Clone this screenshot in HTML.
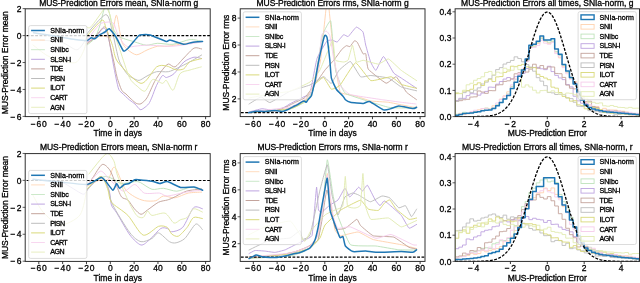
<!DOCTYPE html><html><head><meta charset="utf-8"><style>html,body{margin:0;padding:0;background:#fff;overflow:hidden}svg{display:block}text{font-family:"Liberation Sans",sans-serif}svg{will-change:transform}</style></head><body><svg width="640" height="283" viewBox="0 0 640 283" font-family="Liberation Sans, sans-serif">
<rect width="640" height="283" fill="#fff"/>
<defs>
<clipPath id="c00"><rect x="25.2" y="8.8" width="185" height="107.8"/></clipPath>
<clipPath id="c10"><rect x="240.2" y="8.8" width="184.8" height="107.8"/></clipPath>
<clipPath id="c20"><rect x="455.1" y="8.8" width="184.4" height="107.8"/></clipPath>
<clipPath id="c01"><rect x="25.2" y="153.6" width="185" height="107.8"/></clipPath>
<clipPath id="c11"><rect x="240.2" y="153.6" width="184.8" height="107.8"/></clipPath>
<clipPath id="c21"><rect x="455.1" y="153.6" width="184.4" height="107.8"/></clipPath>
</defs>
<g clip-path="url(#c00)">
<path d="M40 40C42.93 40.32 57.09 41.09 62 42.4C66.91 43.71 73.69 50.09 76.8 49.8C79.91 49.51 83.94 42.31 85.3 40.2C86.66 38.09 86.77 34.83 87 34" fill="none" stroke="#b8b8b8" stroke-width="0.95" stroke-linejoin="round" stroke-linecap="round"/>
<path d="M33 45C34.89 46.41 43.6 53.6 47.2 55.6C50.8 57.6 56.19 59.08 60 60C63.81 60.92 72.6 63.83 75.8 62.5C79 61.17 82.51 53.53 84 50C85.49 46.47 86.6 37.87 87 36" fill="none" stroke="#d8dc90" stroke-width="0.95" stroke-linejoin="round" stroke-linecap="round"/>
<path d="M87 43C88.73 42.07 97.2 36.8 100 36C102.8 35.2 106.4 37 108 37C109.6 37 110.89 38.91 112 36C113.11 33.09 115.23 15.6 116.3 15.2C117.37 14.8 119.19 29.25 120 33C120.81 36.75 121.33 41.03 122.4 43.3C123.47 45.57 126.09 48.47 128 50C129.91 51.53 134.17 54.8 136.7 54.8C139.23 54.8 144.2 51.15 147 50C149.8 48.85 154.99 46.71 157.7 46.2C160.41 45.69 163.49 46.59 167.3 46.2C171.11 45.81 181.73 43.94 186.3 43.3C190.87 42.66 199.56 41.65 201.6 41.4" fill="none" stroke="#ffd3b0" stroke-width="0.95" stroke-linejoin="round" stroke-linecap="round"/>
<path d="M87 45C88.07 44.07 93.27 40.67 95 38C96.73 35.33 98.73 29 100 25C101.27 21 103.43 10.27 104.5 8C105.57 5.73 106.87 5.33 108 8C109.13 10.67 111.67 24.27 113 28C114.33 31.73 116.61 34.6 118 36C119.39 37.4 121.13 37.7 123.4 38.5C125.67 39.3 131.95 41.11 135 42C138.05 42.89 143.27 45.03 146.3 45.2C149.33 45.37 154.14 43.42 157.7 43.3C161.26 43.18 168.67 44.81 173 44.3C177.33 43.79 186.39 39.89 190.2 39.5C194.01 39.11 200.08 41.15 201.6 41.4" fill="none" stroke="#bfe3bc" stroke-width="0.95" stroke-linejoin="round" stroke-linecap="round"/>
<path d="M87 42C88.07 41.47 92.92 39.77 95 38C97.08 36.23 101.13 29.77 102.6 28.7C104.07 27.63 105.15 28.49 106 30C106.85 31.51 108.08 35.73 109 40C109.92 44.27 111.97 56.93 112.9 62C113.83 67.07 115.23 74.37 116 78C116.77 81.63 117.9 87.2 118.7 89.2C119.5 91.2 120.57 91.57 122 93C123.43 94.43 127.67 98.43 129.4 99.9C131.13 101.37 133.57 102.71 135 104C136.43 105.29 138.9 109.07 140.1 109.6C141.3 110.13 142.84 108.79 144 108C145.16 107.21 147.73 105.17 148.8 103.7C149.87 102.23 150.96 99.45 152 97C153.04 94.55 155.21 88.15 156.6 85.3C157.99 82.45 161.11 76.64 162.4 75.6C163.69 74.56 164.75 77.75 166.3 77.5C167.85 77.25 171.67 75.77 174 73.7C176.33 71.63 181.13 64.2 183.8 62C186.47 59.8 191.63 57.65 194 57.2C196.37 56.75 200.59 58.41 201.6 58.6" fill="none" stroke="#bea4e0" stroke-width="0.95" stroke-linejoin="round" stroke-linecap="round"/>
<path d="M87 44C88.07 43.07 92.79 39.25 95 37C97.21 34.75 102 28.03 103.6 27.1C105.2 26.17 106.15 27.61 107 30C107.85 32.39 109.08 40.73 110 45C110.92 49.27 112.97 57.73 113.9 62C114.83 66.27 115.96 73.24 117 77C118.04 80.76 120.5 87.93 121.7 90.2C122.9 92.47 124.89 92.96 126 94C127.11 95.04 128.8 96.87 130 98C131.2 99.13 134.04 101.74 135 102.5C135.96 103.26 136.4 103.54 137.2 103.7C138 103.86 139.71 104.47 141 103.7C142.29 102.93 145.07 100.87 146.9 97.9C148.73 94.93 152.63 85.15 154.7 81.4C156.77 77.65 160.59 72.12 162.4 69.8C164.21 67.48 166.62 64.39 168.3 64C169.98 63.61 172.93 67.7 175 66.9C177.07 66.1 181.27 60.51 183.8 58C186.33 55.49 191.63 49.3 194 48.1C196.37 46.9 200.59 48.88 201.6 49" fill="none" stroke="#c4a49c" stroke-width="0.95" stroke-linejoin="round" stroke-linecap="round"/>
<path d="M86.7 34C89.23 31.41 102.33 15.13 105.7 14.6C109.07 14.07 110.63 25.55 112 30C113.37 34.45 114.97 43.73 116 48C117.03 52.27 118.17 58.45 119.7 62C121.23 65.55 125.73 72.47 127.5 74.6C129.27 76.73 131.45 77.23 133 78C134.55 78.77 137.23 80.67 139.1 80.4C140.97 80.13 144.67 77.16 147 76C149.33 74.84 153.76 72.27 156.6 71.7C159.44 71.13 165.45 72.22 168.3 71.7C171.15 71.18 175.16 69.09 178 67.8C180.84 66.51 186.45 63.71 189.6 62C192.75 60.29 200 55.93 201.6 55" fill="none" stroke="#bdbdbd" stroke-width="0.95" stroke-linejoin="round" stroke-linecap="round"/>
<path d="M87 36C89 33.89 99.47 21.27 102 20.2C104.53 19.13 104.6 24.63 106 28C107.4 31.37 110.93 40.97 112.5 45.5C114.07 50.03 114 56.95 117.8 62C121.6 67.05 135.83 82.75 141 83.4C146.17 84.05 153.23 69.23 156.6 66.9C159.97 64.57 163.71 65.51 166.3 65.9C168.89 66.29 173.67 69.41 176 69.8C178.33 70.19 181.99 69.84 183.8 68.8C185.61 67.76 187.23 63.36 189.6 62C191.97 60.64 200 59.05 201.6 58.6" fill="none" stroke="#d9d97a" stroke-width="0.95" stroke-linejoin="round" stroke-linecap="round"/>
<path d="M87 40C88.47 38.13 96 28.27 98 26C100 23.73 100.4 23.53 102 23C103.6 22.47 108.4 21.87 110 22C111.6 22.13 112.93 22.27 114 24C115.07 25.73 116.67 32.33 118 35C119.33 37.67 122.53 42.39 124 44C125.47 45.61 127.56 46.81 129 47.1C130.44 47.39 132.24 46.45 134.8 46.2C137.36 45.95 143.11 45.2 148.2 45.2C153.29 45.2 165.88 46.63 173 46.2C180.12 45.77 197.79 42.56 201.6 42" fill="none" stroke="#f6cdec" stroke-width="0.95" stroke-linejoin="round" stroke-linecap="round"/>
<path d="M86.7 26.8C87.27 26.8 88.69 29.17 91 26.8C93.31 24.43 102 11.64 104 9C106 6.36 105.2 6.2 106 7C106.8 7.8 109.07 11.93 110 15C110.93 18.07 111.67 25.33 113 30C114.33 34.67 117.81 43.67 120 50C122.19 56.33 127.13 72.7 129.4 77.5C131.67 82.3 134.92 84.19 137 86C139.08 87.81 142.91 91.97 145 91.1C147.09 90.23 150.38 80.53 152.7 79.5C155.02 78.47 160.59 83.28 162.4 83.4C164.21 83.52 164.87 79.49 166.3 80.4C167.73 81.31 171.27 91.09 173.1 90.2C174.93 89.31 177.75 76.39 180 73.7C182.25 71.01 187.16 70.91 190 70C192.84 69.09 199.79 67.31 201.3 66.9" fill="none" stroke="#e2ebb2" stroke-width="0.95" stroke-linejoin="round" stroke-linecap="round"/>
<path d="M26.6 35.6H29.4M30.9 35.6H33.7M35.2 35.6H38M39.5 35.6H42.3M43.8 35.6H46.6M48.1 35.6H50.9M52.4 35.6H55.2M56.7 35.6H59.5M61 35.6H63.8M65.3 35.6H68.1M69.6 35.6H72.4M73.9 35.6H76.7M78.2 35.6H81M82.5 35.6H85.3M86.8 35.6H89.6M91.1 35.6H93.9M95.4 35.6H98.2M99.7 35.6H102.5M104 35.6H106.8M108.3 35.6H111.1M112.6 35.6H115.4M116.9 35.6H119.7M121.2 35.6H124M125.5 35.6H128.3M129.8 35.6H132.6M134.1 35.6H136.9M138.4 35.6H141.2M142.7 35.6H145.5M147 35.6H149.8M151.3 35.6H154.1M155.6 35.6H158.4M159.9 35.6H162.7M164.2 35.6H167M168.5 35.6H171.3M172.8 35.6H175.6M177.1 35.6H179.9M181.4 35.6H184.2M185.7 35.6H188.5M190 35.6H192.8M194.3 35.6H197.1M198.6 35.6H201.4M202.9 35.6H205.7M207.2 35.6H210" stroke="#000" stroke-width="1.1" fill="none"/>
<path d="M33.5 32.8C34.46 32.94 42.79 34.15 45 34.5C47.21 34.85 57.5 36.58 60 37C62.5 37.42 72.77 39.2 75 39.5C77.23 39.8 85.44 40.74 86.8 40.6C88.16 40.46 90.63 37.95 91.3 37.8C91.97 37.65 94.08 39.07 94.8 38.8C95.52 38.52 99.15 35.07 100 34.5C100.85 33.93 104.22 32.48 105 32C105.78 31.52 108.38 28.28 109.3 28.7C110.22 29.12 114.83 35.15 116 37C117.17 38.85 122.39 49.98 123.4 50.9C124.41 51.82 126.83 49.37 128.1 48.1C129.37 46.83 137.41 36.82 138.6 35.7C139.79 34.58 141.44 34.76 142.4 34.7C143.36 34.64 148.11 34.44 150.1 35C152.09 35.56 164.63 40.98 166.3 41.4C167.97 41.82 168.67 39.76 170.1 40C171.53 40.24 181.68 44.1 183.5 44.3C185.32 44.5 190.41 42.64 192 42.4C193.59 42.16 201.72 41.48 202.6 41.4" fill="none" stroke="#1f77b4" stroke-width="1.5" stroke-linejoin="round" stroke-linecap="round"/>
</g>
<rect x="25.2" y="8.8" width="185" height="107.8" fill="none" stroke="#262626" stroke-width="0.95"/>
<line x1="38.82" y1="116.6" x2="38.82" y2="119.2" stroke="#262626" stroke-width="0.9"/>
<text x="38.82" y="126.6" font-size="8.5" text-anchor="middle" textLength="16.04" lengthAdjust="spacing" fill="#000" stroke="#000" stroke-width="0.3">−60</text>
<line x1="62.64" y1="116.6" x2="62.64" y2="119.2" stroke="#262626" stroke-width="0.9"/>
<text x="62.64" y="126.6" font-size="8.5" text-anchor="middle" textLength="16.04" lengthAdjust="spacing" fill="#000" stroke="#000" stroke-width="0.3">−40</text>
<line x1="86.47" y1="116.6" x2="86.47" y2="119.2" stroke="#262626" stroke-width="0.9"/>
<text x="86.47" y="126.6" font-size="8.5" text-anchor="middle" textLength="16.04" lengthAdjust="spacing" fill="#000" stroke="#000" stroke-width="0.3">−20</text>
<line x1="110.3" y1="116.6" x2="110.3" y2="119.2" stroke="#262626" stroke-width="0.9"/>
<text x="110.3" y="126.6" font-size="8.5" text-anchor="middle" textLength="4.84" lengthAdjust="spacing" fill="#000" stroke="#000" stroke-width="0.3">0</text>
<line x1="134.13" y1="116.6" x2="134.13" y2="119.2" stroke="#262626" stroke-width="0.9"/>
<text x="134.13" y="126.6" font-size="8.5" text-anchor="middle" textLength="9.67" lengthAdjust="spacing" fill="#000" stroke="#000" stroke-width="0.3">20</text>
<line x1="157.96" y1="116.6" x2="157.96" y2="119.2" stroke="#262626" stroke-width="0.9"/>
<text x="157.96" y="126.6" font-size="8.5" text-anchor="middle" textLength="9.67" lengthAdjust="spacing" fill="#000" stroke="#000" stroke-width="0.3">40</text>
<line x1="181.78" y1="116.6" x2="181.78" y2="119.2" stroke="#262626" stroke-width="0.9"/>
<text x="181.78" y="126.6" font-size="8.5" text-anchor="middle" textLength="9.67" lengthAdjust="spacing" fill="#000" stroke="#000" stroke-width="0.3">60</text>
<line x1="205.61" y1="116.6" x2="205.61" y2="119.2" stroke="#262626" stroke-width="0.9"/>
<text x="205.61" y="126.6" font-size="8.5" text-anchor="middle" textLength="9.67" lengthAdjust="spacing" fill="#000" stroke="#000" stroke-width="0.3">80</text>
<line x1="22.6" y1="8.64" x2="25.2" y2="8.64" stroke="#262626" stroke-width="0.75"/>
<text x="21.6" y="11.84" font-size="8.5" text-anchor="end" textLength="4.84" lengthAdjust="spacing" fill="#000" stroke="#000" stroke-width="0.3">2</text>
<line x1="22.6" y1="35.58" x2="25.2" y2="35.58" stroke="#262626" stroke-width="0.75"/>
<text x="21.6" y="38.78" font-size="8.5" text-anchor="end" textLength="4.84" lengthAdjust="spacing" fill="#000" stroke="#000" stroke-width="0.3">0</text>
<line x1="22.6" y1="62.52" x2="25.2" y2="62.52" stroke="#262626" stroke-width="0.75"/>
<text x="21.6" y="65.72" font-size="8.5" text-anchor="end" textLength="11.2" lengthAdjust="spacing" fill="#000" stroke="#000" stroke-width="0.3">−2</text>
<line x1="22.6" y1="89.46" x2="25.2" y2="89.46" stroke="#262626" stroke-width="0.75"/>
<text x="21.6" y="92.66" font-size="8.5" text-anchor="end" textLength="11.2" lengthAdjust="spacing" fill="#000" stroke="#000" stroke-width="0.3">−4</text>
<line x1="22.6" y1="116.4" x2="25.2" y2="116.4" stroke="#262626" stroke-width="0.75"/>
<text x="21.6" y="119.6" font-size="8.5" text-anchor="end" textLength="11.2" lengthAdjust="spacing" fill="#000" stroke="#000" stroke-width="0.3">−6</text>
<text x="118.7" y="5.6" font-size="8.5" text-anchor="middle" textLength="159.13" lengthAdjust="spacing" fill="#000" stroke="#000" stroke-width="0.3">MUS-Prediction Errors mean, SNIa-norm g</text>
<text x="117.7" y="135.8" font-size="8.5" text-anchor="middle" textLength="48.53" lengthAdjust="spacing" fill="#000" stroke="#000" stroke-width="0.3">Time in days</text>
<text x="8" y="62.7" font-size="8.5" text-anchor="middle" textLength="102.95" lengthAdjust="spacing" transform="rotate(-90 8 62.7)" fill="#000" stroke="#000" stroke-width="0.3">MUS-Prediction Error mean</text>
<rect x="28.7" y="25.6" width="58.2" height="88.0" rx="1.8" fill="#fff" fill-opacity="0.8" stroke="#d0d0d0" stroke-width="0.75"/>
<line x1="31.1" y1="30.5" x2="44.9" y2="30.5" stroke="#1f77b4" stroke-width="1.5"/>
<text x="50.2" y="32.8" font-size="7.1" text-anchor="start" textLength="34.33" lengthAdjust="spacing" fill="#000" stroke="#000" stroke-width="0.3">SNIa-norm</text>
<line x1="31.1" y1="40.1" x2="44.9" y2="40.1" stroke="#ffd3b0" stroke-width="0.8"/>
<text x="50.2" y="42.4" font-size="7.1" text-anchor="start" textLength="12.82" lengthAdjust="spacing" fill="#000" stroke="#000" stroke-width="0.3">SNII</text>
<line x1="31.1" y1="49.7" x2="44.9" y2="49.7" stroke="#bfe3bc" stroke-width="0.8"/>
<text x="50.2" y="52" font-size="7.1" text-anchor="start" textLength="18.6" lengthAdjust="spacing" fill="#000" stroke="#000" stroke-width="0.3">SNIbc</text>
<line x1="31.1" y1="59.3" x2="44.9" y2="59.3" stroke="#bea4e0" stroke-width="1.0"/>
<text x="50.2" y="61.6" font-size="7.1" text-anchor="start" textLength="21" lengthAdjust="spacing" fill="#000" stroke="#000" stroke-width="0.3">SLSN-I</text>
<line x1="31.1" y1="68.9" x2="44.9" y2="68.9" stroke="#c4a49c" stroke-width="1.0"/>
<text x="50.2" y="71.2" font-size="7.1" text-anchor="start" textLength="13.08" lengthAdjust="spacing" fill="#000" stroke="#000" stroke-width="0.3">TDE</text>
<line x1="31.1" y1="78.5" x2="44.9" y2="78.5" stroke="#bdbdbd" stroke-width="1.0"/>
<text x="50.2" y="80.8" font-size="7.1" text-anchor="start" textLength="14.82" lengthAdjust="spacing" fill="#000" stroke="#000" stroke-width="0.3">PISN</text>
<line x1="31.1" y1="88.1" x2="44.9" y2="88.1" stroke="#d9d97a" stroke-width="1.0"/>
<text x="50.2" y="90.4" font-size="7.1" text-anchor="start" textLength="14.62" lengthAdjust="spacing" fill="#000" stroke="#000" stroke-width="0.3">ILOT</text>
<line x1="31.1" y1="97.7" x2="44.9" y2="97.7" stroke="#f6cdec" stroke-width="0.8"/>
<text x="50.2" y="100" font-size="7.1" text-anchor="start" textLength="17.47" lengthAdjust="spacing" fill="#000" stroke="#000" stroke-width="0.3">CART</text>
<line x1="31.1" y1="107.3" x2="44.9" y2="107.3" stroke="#e2ebb2" stroke-width="0.8"/>
<text x="50.2" y="109.6" font-size="7.1" text-anchor="start" textLength="14.35" lengthAdjust="spacing" fill="#000" stroke="#000" stroke-width="0.3">AGN</text>
<g clip-path="url(#c10)">
<path d="M249 112.5C250.52 112.41 272.61 111.26 275 111C277.39 110.74 288.54 108.47 290 108C291.46 107.53 298.83 103.64 300 103C301.17 102.36 309.07 98.34 310 97C310.93 95.66 315.38 82.16 316 80C316.62 77.84 320.01 64.2 320.6 60C321.19 55.8 325.7 11.5 326.1 8C326.5 4.5 327.34 0 327.5 0C327.66 0 328.5 4.5 328.9 8C329.3 11.5 333.73 55.09 334.4 60C335.06 64.91 339.07 90.01 340.3 92.1C341.53 94.19 353.72 95.38 355.5 95.9C357.28 96.42 368.87 100.63 370.8 101C372.73 101.37 386.08 101.93 388.6 102.3C391.12 102.67 412.37 107.08 414 107.3C415.63 107.52 416.45 106.08 416.6 106" fill="none" stroke="#ffd3b0" stroke-width="0.95" stroke-linejoin="round" stroke-linecap="round"/>
<path d="M249 112.5C251.39 112.3 286.73 109.61 290 109C293.27 108.39 303.66 103.11 305 102C306.34 100.89 311.98 93.87 313 90C314.02 86.13 321.47 39.63 322.5 35.6C323.53 31.57 330.01 19.48 330.7 20.9C331.39 22.32 334.09 57.02 334.4 60C334.71 62.98 335.36 70.06 336 72C336.64 73.94 342.33 91.24 345.4 93.3C348.47 95.36 384.48 106.44 388.6 107.3C392.72 108.16 414.4 107.96 416 108" fill="none" stroke="#bfe3bc" stroke-width="0.95" stroke-linejoin="round" stroke-linecap="round"/>
<path d="M249 112C249.76 111.81 260.48 108.83 262 108.75C263.52 108.67 273.66 110.71 275 110.6C276.34 110.49 284.12 107.3 285 106.9C285.88 106.5 289.12 104.23 290 103.75C290.88 103.27 299.12 99.19 300 98.75C300.88 98.31 304.42 96.54 305 96.25C305.58 95.96 309.3 95.95 310 93.75C310.7 91.55 316.01 61.58 317 58.5C317.99 55.42 326.09 42.07 327 41C327.91 39.93 332 40.14 332.6 40.2C333.2 40.26 336.56 42.32 337.2 42C337.84 41.68 342.96 35.02 343.6 34.7C344.24 34.38 347.46 36.94 348.2 36.5C348.94 36.06 355.44 27.37 356.3 27.1C357.16 26.83 362.45 30.86 363 31.9C363.55 32.94 365.26 43.24 365.7 45C366.14 46.76 370 60.52 370.6 62C371.2 63.48 375.15 70.72 375.9 70.4C376.65 70.08 382.46 56.35 383.5 56.5C384.54 56.65 392.66 71.74 393.7 73C394.74 74.26 399.96 77.21 401.3 78.1C402.64 78.99 415.71 87.7 416.6 88.3" fill="none" stroke="#bea4e0" stroke-width="0.95" stroke-linejoin="round" stroke-linecap="round"/>
<path d="M249 112.5C250.52 112.41 272.9 111.29 275 111C277.1 110.71 283.83 108 285 107.5C286.17 107 293.83 103.08 295 102.5C296.17 101.92 303.66 98.81 305 97.5C306.34 96.19 316.83 81.6 318 80C319.17 78.4 324.04 71.2 325 70C325.96 68.8 333.42 60.7 334.4 59.5C335.38 58.3 341.1 50.2 341.8 49.4C342.5 48.59 345.92 45.86 346.4 45.7C346.88 45.54 349.53 46.89 350 46.6C350.47 46.31 353.97 41.05 354.4 40.8C354.83 40.55 356.8 41.54 357.3 42.3C357.8 43.06 362.5 53.13 363 53.8C363.5 54.47 365.49 52.9 365.8 53.8C366.11 54.7 367.12 67.48 368.3 69.2C369.48 70.92 384.47 82.76 386.1 83.2C387.73 83.64 395.02 76.28 396.2 76.8C397.38 77.32 405.21 90.76 406.4 92.1C407.59 93.44 416 99.26 416.6 99.7" fill="none" stroke="#c4a49c" stroke-width="0.95" stroke-linejoin="round" stroke-linecap="round"/>
<path d="M249 104C249.7 103.59 259.77 97.09 261 97C262.23 96.91 268.31 102.84 270 102.5C271.69 102.16 287.67 92.27 290 91.25C292.33 90.23 308.05 85.85 310 85C311.95 84.15 322.26 76.69 323.5 76.6C324.74 76.51 330.4 83.76 331.3 83.4C332.2 83.04 337.89 71.68 339 70.4C340.11 69.12 349.14 61.13 350.4 61.5C351.66 61.87 359.41 75.98 360.6 76.8C361.79 77.62 369.17 75.42 370.8 75.5C372.43 75.58 386.82 77.43 388.6 78.1C390.38 78.77 399.67 86.26 401.3 87C402.93 87.74 415.71 90.58 416.6 90.8" fill="none" stroke="#bdbdbd" stroke-width="0.95" stroke-linejoin="round" stroke-linecap="round"/>
<path d="M249 112.5C251.39 112.3 286.73 109.67 290 109C293.27 108.33 303.61 102.38 305 101C306.39 99.62 312.72 86.67 313.8 85.3C314.88 83.93 322.48 77.27 323.5 77.5C324.52 77.73 330.34 88.75 331.3 89.2C332.26 89.66 338.59 86.84 340 85.3C341.41 83.76 353.7 63.07 355.5 62.8C357.3 62.53 368.72 79.78 370.8 80.6C372.88 81.42 389.42 76.58 391.2 76.8C392.98 77.02 399.82 83.73 401.3 84.4C402.78 85.07 415.71 88.07 416.6 88.3" fill="none" stroke="#d9d97a" stroke-width="0.95" stroke-linejoin="round" stroke-linecap="round"/>
<path d="M249 112C251.39 111.71 286.56 107.88 290 107C293.44 106.12 306.37 99.16 308 97C309.63 94.84 317.21 73.58 318 70C318.79 66.42 321.03 37.88 321.5 35.6C321.97 33.33 325.62 31 326.1 31C326.58 31 329.34 33.91 329.8 35.6C330.26 37.29 333.4 57.12 334 60C334.6 62.88 339.04 82.98 340 85C340.96 87.02 347.93 93.74 350.4 94.6C352.87 95.46 379.33 99.25 382.3 99.7C385.27 100.15 399.33 102.05 401.3 102.3C403.27 102.55 415.14 103.9 416 104" fill="none" stroke="#f6cdec" stroke-width="0.95" stroke-linejoin="round" stroke-linecap="round"/>
<path d="M249 98C250.22 97.77 267.61 94.39 270 94C272.39 93.61 287.67 91.95 290 91.25C292.33 90.55 308.25 83.24 310 82C311.75 80.76 318.68 72.44 320 70C321.32 67.56 331.71 40.78 332.6 40.2C333.49 39.62 334.64 58.73 335.3 60C335.96 61.27 343.15 62 343.9 62C344.65 62 347.7 60.98 348.2 60C348.7 59.02 352.03 45.08 352.5 45.2C352.97 45.32 355.68 61.12 356.3 62C356.92 62.88 361.91 60.18 363.2 60.3C364.49 60.42 376.92 64.18 378.4 64.1C379.88 64.02 387.26 58.63 388.6 59C389.94 59.37 399.67 69.14 401.3 70.4C402.93 71.66 415.71 80 416.6 80.6" fill="none" stroke="#e2ebb2" stroke-width="0.95" stroke-linejoin="round" stroke-linecap="round"/>
<path d="M240.9 112.6H243.7M245.2 112.6H248M249.5 112.6H252.3M253.8 112.6H256.6M258.1 112.6H260.9M262.4 112.6H265.2M266.7 112.6H269.5M271 112.6H273.8M275.3 112.6H278.1M279.6 112.6H282.4M283.9 112.6H286.7M288.2 112.6H291M292.5 112.6H295.3M296.8 112.6H299.6M301.1 112.6H303.9M305.4 112.6H308.2M309.7 112.6H312.5M314 112.6H316.8M318.3 112.6H321.1M322.6 112.6H325.4M326.9 112.6H329.7M331.2 112.6H334M335.5 112.6H338.3M339.8 112.6H342.6M344.1 112.6H346.9M348.4 112.6H351.2M352.7 112.6H355.5M357 112.6H359.8M361.3 112.6H364.1M365.6 112.6H368.4M369.9 112.6H372.7M374.2 112.6H377M378.5 112.6H381.3M382.8 112.6H385.6M387.1 112.6H389.9M391.4 112.6H394.2M395.7 112.6H398.5M400 112.6H402.8M404.3 112.6H407.1M408.6 112.6H411.4M412.9 112.6H415.7M417.2 112.6H420M421.5 112.6H424.3" stroke="#000" stroke-width="1.1" fill="none"/>
<path d="M248.7 112.75C249.31 112.62 254.64 111.35 256 111.25C257.36 111.15 263.42 111.55 265 111.5C266.58 111.45 273.58 110.6 275 110.6C276.42 110.6 280.92 111.59 282 111.5C283.08 111.41 287.08 109.89 288 109.5C288.92 109.11 292.25 107.18 293 106.8C293.75 106.42 296.33 105.28 297 104.9C297.67 104.53 300.4 102.63 301 102.3C301.6 101.97 303.77 100.9 304.2 100.9C304.63 100.9 305.88 102.41 306.2 102.3C306.52 102.19 307.67 100.15 308.1 99.6C308.53 99.05 310.96 96.67 311.4 95.7C311.84 94.73 313.07 89.21 313.4 87.9C313.72 86.59 314.88 82.16 315.3 80C315.73 77.84 317.75 65.62 318.5 62C319.25 58.38 323.59 38.55 324.3 36.5C325.01 34.45 326.54 35.44 327 37.4C327.46 39.36 329.43 56.61 329.8 60C330.17 63.39 330.84 75.64 331.4 78.1C331.96 80.56 335.55 88.02 336.5 89.5C337.45 90.98 342.06 95.05 342.8 95.9C343.54 96.75 344.77 99.17 345.4 99.7C346.03 100.23 348.92 101.98 350.4 102.3C351.88 102.62 361.61 103.57 363.2 103.5C364.79 103.43 367.81 100.97 369.5 101.5C371.19 102.03 381.69 109.31 383.5 109.9C385.31 110.49 389.93 108.92 391.2 108.6C392.47 108.28 397 106.1 398.8 106.1C400.6 106.1 411.32 108.5 412.8 108.6C414.28 108.7 416.28 107.41 416.6 107.3" fill="none" stroke="#1f77b4" stroke-width="1.5" stroke-linejoin="round" stroke-linecap="round"/>
</g>
<rect x="240.2" y="8.8" width="184.8" height="107.8" fill="none" stroke="#262626" stroke-width="0.95"/>
<line x1="253.32" y1="116.6" x2="253.32" y2="119.2" stroke="#262626" stroke-width="0.9"/>
<text x="253.32" y="126.6" font-size="8.5" text-anchor="middle" textLength="16.04" lengthAdjust="spacing" fill="#000" stroke="#000" stroke-width="0.3">−60</text>
<line x1="277.14" y1="116.6" x2="277.14" y2="119.2" stroke="#262626" stroke-width="0.9"/>
<text x="277.14" y="126.6" font-size="8.5" text-anchor="middle" textLength="16.04" lengthAdjust="spacing" fill="#000" stroke="#000" stroke-width="0.3">−40</text>
<line x1="300.97" y1="116.6" x2="300.97" y2="119.2" stroke="#262626" stroke-width="0.9"/>
<text x="300.97" y="126.6" font-size="8.5" text-anchor="middle" textLength="16.04" lengthAdjust="spacing" fill="#000" stroke="#000" stroke-width="0.3">−20</text>
<line x1="324.8" y1="116.6" x2="324.8" y2="119.2" stroke="#262626" stroke-width="0.9"/>
<text x="324.8" y="126.6" font-size="8.5" text-anchor="middle" textLength="4.84" lengthAdjust="spacing" fill="#000" stroke="#000" stroke-width="0.3">0</text>
<line x1="348.63" y1="116.6" x2="348.63" y2="119.2" stroke="#262626" stroke-width="0.9"/>
<text x="348.63" y="126.6" font-size="8.5" text-anchor="middle" textLength="9.67" lengthAdjust="spacing" fill="#000" stroke="#000" stroke-width="0.3">20</text>
<line x1="372.46" y1="116.6" x2="372.46" y2="119.2" stroke="#262626" stroke-width="0.9"/>
<text x="372.46" y="126.6" font-size="8.5" text-anchor="middle" textLength="9.67" lengthAdjust="spacing" fill="#000" stroke="#000" stroke-width="0.3">40</text>
<line x1="396.28" y1="116.6" x2="396.28" y2="119.2" stroke="#262626" stroke-width="0.9"/>
<text x="396.28" y="126.6" font-size="8.5" text-anchor="middle" textLength="9.67" lengthAdjust="spacing" fill="#000" stroke="#000" stroke-width="0.3">60</text>
<line x1="420.11" y1="116.6" x2="420.11" y2="119.2" stroke="#262626" stroke-width="0.9"/>
<text x="420.11" y="126.6" font-size="8.5" text-anchor="middle" textLength="9.67" lengthAdjust="spacing" fill="#000" stroke="#000" stroke-width="0.3">80</text>
<line x1="237.6" y1="98.9" x2="240.2" y2="98.9" stroke="#262626" stroke-width="0.75"/>
<text x="236.6" y="102.1" font-size="8.5" text-anchor="end" textLength="4.84" lengthAdjust="spacing" fill="#000" stroke="#000" stroke-width="0.3">2</text>
<line x1="237.6" y1="71.97" x2="240.2" y2="71.97" stroke="#262626" stroke-width="0.75"/>
<text x="236.6" y="75.17" font-size="8.5" text-anchor="end" textLength="4.84" lengthAdjust="spacing" fill="#000" stroke="#000" stroke-width="0.3">4</text>
<line x1="237.6" y1="45.03" x2="240.2" y2="45.03" stroke="#262626" stroke-width="0.75"/>
<text x="236.6" y="48.23" font-size="8.5" text-anchor="end" textLength="4.84" lengthAdjust="spacing" fill="#000" stroke="#000" stroke-width="0.3">6</text>
<line x1="237.6" y1="18.1" x2="240.2" y2="18.1" stroke="#262626" stroke-width="0.75"/>
<text x="236.6" y="21.3" font-size="8.5" text-anchor="end" textLength="4.84" lengthAdjust="spacing" fill="#000" stroke="#000" stroke-width="0.3">8</text>
<text x="332.6" y="5.6" font-size="8.5" text-anchor="middle" textLength="152.06" lengthAdjust="spacing" fill="#000" stroke="#000" stroke-width="0.3">MUS-Prediction Errors rms, SNIa-norm g</text>
<text x="332.6" y="135.8" font-size="8.5" text-anchor="middle" textLength="48.53" lengthAdjust="spacing" fill="#000" stroke="#000" stroke-width="0.3">Time in days</text>
<text x="229" y="62.7" font-size="8.5" text-anchor="middle" textLength="95.89" lengthAdjust="spacing" transform="rotate(-90 229 62.7)" fill="#000" stroke="#000" stroke-width="0.3">MUS-Prediction Error rms</text>
<rect x="243.2" y="11.8" width="58.2" height="88.0" rx="1.8" fill="#fff" fill-opacity="0.8" stroke="#d0d0d0" stroke-width="0.75"/>
<line x1="245.6" y1="17.3" x2="259.4" y2="17.3" stroke="#1f77b4" stroke-width="1.5"/>
<text x="264.7" y="19.6" font-size="7.1" text-anchor="start" textLength="34.33" lengthAdjust="spacing" fill="#000" stroke="#000" stroke-width="0.3">SNIa-norm</text>
<line x1="245.6" y1="26.9" x2="259.4" y2="26.9" stroke="#ffd3b0" stroke-width="0.8"/>
<text x="264.7" y="29.2" font-size="7.1" text-anchor="start" textLength="12.82" lengthAdjust="spacing" fill="#000" stroke="#000" stroke-width="0.3">SNII</text>
<line x1="245.6" y1="36.5" x2="259.4" y2="36.5" stroke="#bfe3bc" stroke-width="0.8"/>
<text x="264.7" y="38.8" font-size="7.1" text-anchor="start" textLength="18.6" lengthAdjust="spacing" fill="#000" stroke="#000" stroke-width="0.3">SNIbc</text>
<line x1="245.6" y1="46.1" x2="259.4" y2="46.1" stroke="#bea4e0" stroke-width="1.0"/>
<text x="264.7" y="48.4" font-size="7.1" text-anchor="start" textLength="21" lengthAdjust="spacing" fill="#000" stroke="#000" stroke-width="0.3">SLSN-I</text>
<line x1="245.6" y1="55.7" x2="259.4" y2="55.7" stroke="#c4a49c" stroke-width="1.0"/>
<text x="264.7" y="58" font-size="7.1" text-anchor="start" textLength="13.08" lengthAdjust="spacing" fill="#000" stroke="#000" stroke-width="0.3">TDE</text>
<line x1="245.6" y1="65.3" x2="259.4" y2="65.3" stroke="#bdbdbd" stroke-width="1.0"/>
<text x="264.7" y="67.6" font-size="7.1" text-anchor="start" textLength="14.82" lengthAdjust="spacing" fill="#000" stroke="#000" stroke-width="0.3">PISN</text>
<line x1="245.6" y1="74.9" x2="259.4" y2="74.9" stroke="#d9d97a" stroke-width="1.0"/>
<text x="264.7" y="77.2" font-size="7.1" text-anchor="start" textLength="14.62" lengthAdjust="spacing" fill="#000" stroke="#000" stroke-width="0.3">ILOT</text>
<line x1="245.6" y1="84.5" x2="259.4" y2="84.5" stroke="#f6cdec" stroke-width="0.8"/>
<text x="264.7" y="86.8" font-size="7.1" text-anchor="start" textLength="17.47" lengthAdjust="spacing" fill="#000" stroke="#000" stroke-width="0.3">CART</text>
<line x1="245.6" y1="94.1" x2="259.4" y2="94.1" stroke="#e2ebb2" stroke-width="0.8"/>
<text x="264.7" y="96.4" font-size="7.1" text-anchor="start" textLength="14.35" lengthAdjust="spacing" fill="#000" stroke="#000" stroke-width="0.3">AGN</text>
<g clip-path="url(#c20)">
<polyline points="455.1,116.6 455.1,115.46 458.79,115.46 458.79,113.32 462.48,113.32 462.48,114.45 466.16,114.45 466.16,113.85 469.85,113.85 469.85,112.11 473.54,112.11 473.54,111.82 477.23,111.82 477.23,109.8 480.92,109.8 480.92,108.64 484.6,108.64 484.6,108.17 488.29,108.17 488.29,108.9 491.98,108.9 491.98,105.78 495.67,105.78 495.67,105.18 499.36,105.18 499.36,99.11 503.04,99.11 503.04,95.8 506.73,95.8 506.73,91.81 510.42,91.81 510.42,86.57 514.11,86.57 514.11,78.99 517.8,78.99 517.8,74.03 521.48,74.03 521.48,69.23 525.17,69.23 525.17,61 528.86,61 528.86,47.51 532.55,47.51 532.55,45.82 536.24,45.82 536.24,43.49 539.92,43.49 539.92,38.01 543.61,38.01 543.61,41.23 547.3,41.23 547.3,43.37 550.99,43.37 550.99,41.74 554.68,41.74 554.68,52.09 558.36,52.09 558.36,57.85 562.05,57.85 562.05,66.68 565.74,66.68 565.74,72.22 569.43,72.22 569.43,77.02 573.12,77.02 573.12,81.63 576.8,81.63 576.8,89.6 580.49,89.6 580.49,95.78 584.18,95.78 584.18,102.33 587.87,102.33 587.87,105.22 591.56,105.22 591.56,106.33 595.24,106.33 595.24,106.54 598.93,106.54 598.93,109.56 602.62,109.56 602.62,108.35 606.31,108.35 606.31,110.69 610,110.69 610,109.94 613.68,109.94 613.68,110.06 617.37,110.06 617.37,111.07 621.06,111.07 621.06,111.2 624.75,111.2 624.75,111.93 628.44,111.93 628.44,114.01 632.12,114.01 632.12,114.62 635.81,114.62 635.81,114 639.5,114 639.5,116.6" fill="none" stroke="#ffd3b0" stroke-width="0.9" stroke-linejoin="round" stroke-linecap="round" stroke-linejoin="miter" stroke-linecap="butt"/>
<polyline points="455.1,116.6 455.1,114.2 458.79,114.2 458.79,114.72 462.48,114.72 462.48,112.29 466.16,112.29 466.16,113.53 469.85,113.53 469.85,112.93 473.54,112.93 473.54,111.47 477.23,111.47 477.23,111.58 480.92,111.58 480.92,110.34 484.6,110.34 484.6,108.18 488.29,108.18 488.29,109.25 491.98,109.25 491.98,107.93 495.67,107.93 495.67,104.84 499.36,104.84 499.36,102.64 503.04,102.64 503.04,98.61 506.73,98.61 506.73,93.95 510.42,93.95 510.42,86.31 514.11,86.31 514.11,79.73 517.8,79.73 517.8,76.21 521.48,76.21 521.48,70.82 525.17,70.82 525.17,60.74 528.86,60.74 528.86,47.13 532.55,47.13 532.55,46.2 536.24,46.2 536.24,42.37 539.92,42.37 539.92,38.19 543.61,38.19 543.61,40.84 547.3,40.84 547.3,42.26 550.99,42.26 550.99,41.09 554.68,41.09 554.68,51.61 558.36,51.61 558.36,55.44 562.05,55.44 562.05,65.28 565.74,65.28 565.74,71.92 569.43,71.92 569.43,78.31 573.12,78.31 573.12,83.11 576.8,83.11 576.8,91.29 580.49,91.29 580.49,98.43 584.18,98.43 584.18,103.42 587.87,103.42 587.87,107.53 591.56,107.53 591.56,106.9 595.24,106.9 595.24,108.11 598.93,108.11 598.93,110.14 602.62,110.14 602.62,111.06 606.31,111.06 606.31,111.05 610,111.05 610,111.81 613.68,111.81 613.68,111.85 617.37,111.85 617.37,113.02 621.06,113.02 621.06,114.07 624.75,114.07 624.75,114.27 628.44,114.27 628.44,114.1 632.12,114.1 632.12,113.98 635.81,113.98 635.81,115.8 639.5,115.8 639.5,116.6" fill="none" stroke="#bfe3bc" stroke-width="0.9" stroke-linejoin="round" stroke-linecap="round" stroke-linejoin="miter" stroke-linecap="butt"/>
<polyline points="455.1,116.6 455.1,100.55 458.79,100.55 458.79,98.32 462.48,98.32 462.48,98.37 466.16,98.37 466.16,95.64 469.85,95.64 469.85,93.7 473.54,93.7 473.54,93.96 477.23,93.96 477.23,95.17 480.92,95.17 480.92,93.08 484.6,93.08 484.6,91.42 488.29,91.42 488.29,87.12 491.98,87.12 491.98,87.28 495.67,87.28 495.67,84.16 499.36,84.16 499.36,81.52 503.04,81.52 503.04,79.07 506.73,79.07 506.73,77.52 510.42,77.52 510.42,79.13 514.11,79.13 514.11,76.65 517.8,76.65 517.8,74.92 521.48,74.92 521.48,73.27 525.17,73.27 525.17,68.5 528.86,68.5 528.86,67.49 532.55,67.49 532.55,67.53 536.24,67.53 536.24,67.4 539.92,67.4 539.92,68.77 543.61,68.77 543.61,69.63 547.3,69.63 547.3,66.24 550.99,66.24 550.99,71.59 554.68,71.59 554.68,75.35 558.36,75.35 558.36,77.91 562.05,77.91 562.05,79.62 565.74,79.62 565.74,84.57 569.43,84.57 569.43,86.84 573.12,86.84 573.12,96.25 576.8,96.25 576.8,100.9 580.49,100.9 580.49,103.21 584.18,103.21 584.18,103.5 587.87,103.5 587.87,107.36 591.56,107.36 591.56,107.38 595.24,107.38 595.24,109.74 598.93,109.74 598.93,110.88 602.62,110.88 602.62,110.89 606.31,110.89 606.31,111.09 610,111.09 610,111.98 613.68,111.98 613.68,112.02 617.37,112.02 617.37,111.87 621.06,111.87 621.06,112.64 624.75,112.64 624.75,114.09 628.44,114.09 628.44,113.07 632.12,113.07 632.12,113.56 635.81,113.56 635.81,114.99 639.5,114.99 639.5,116.6" fill="none" stroke="#bea4e0" stroke-width="0.9" stroke-linejoin="round" stroke-linecap="round" stroke-linejoin="miter" stroke-linecap="butt"/>
<polyline points="455.1,116.6 455.1,101.24 458.79,101.24 458.79,100.66 462.48,100.66 462.48,99.74 466.16,99.74 466.16,99.31 469.85,99.31 469.85,97.06 473.54,97.06 473.54,96.82 477.23,96.82 477.23,90.98 480.92,90.98 480.92,92.05 484.6,92.05 484.6,93.34 488.29,93.34 488.29,90.61 491.98,90.61 491.98,90.73 495.67,90.73 495.67,85 499.36,85 499.36,84.71 503.04,84.71 503.04,81.41 506.73,81.41 506.73,80.82 510.42,80.82 510.42,78.83 514.11,78.83 514.11,73.78 517.8,73.78 517.8,72.7 521.48,72.7 521.48,70.89 525.17,70.89 525.17,72.06 528.86,72.06 528.86,69.14 532.55,69.14 532.55,64.23 536.24,64.23 536.24,68.26 539.92,68.26 539.92,65.55 543.61,65.55 543.61,68.76 547.3,68.76 547.3,66.92 550.99,66.92 550.99,66.99 554.68,66.99 554.68,73.45 558.36,73.45 558.36,73.7 562.05,73.7 562.05,77.42 565.74,77.42 565.74,85.09 569.43,85.09 569.43,88.21 573.12,88.21 573.12,88.86 576.8,88.86 576.8,96.05 580.49,96.05 580.49,97.54 584.18,97.54 584.18,101.49 587.87,101.49 587.87,101.21 591.56,101.21 591.56,106.54 595.24,106.54 595.24,107.42 598.93,107.42 598.93,110.25 602.62,110.25 602.62,111.31 606.31,111.31 606.31,110.17 610,110.17 610,110.86 613.68,110.86 613.68,110.91 617.37,110.91 617.37,111.41 621.06,111.41 621.06,111.79 624.75,111.79 624.75,112.83 628.44,112.83 628.44,113.93 632.12,113.93 632.12,113.37 635.81,113.37 635.81,115.04 639.5,115.04 639.5,116.6" fill="none" stroke="#c4a49c" stroke-width="0.9" stroke-linejoin="round" stroke-linecap="round" stroke-linejoin="miter" stroke-linecap="butt"/>
<polyline points="455.1,116.6 455.1,101.28 458.79,101.28 458.79,99.25 462.48,99.25 462.48,92.63 466.16,92.63 466.16,90.79 469.85,90.79 469.85,92.7 473.54,92.7 473.54,90.2 477.23,90.2 477.23,87.87 480.92,87.87 480.92,84 484.6,84 484.6,82.15 488.29,82.15 488.29,78.76 491.98,78.76 491.98,75.22 495.67,75.22 495.67,69.62 499.36,69.62 499.36,67.64 503.04,67.64 503.04,64.07 506.73,64.07 506.73,62.41 510.42,62.41 510.42,60.45 514.11,60.45 514.11,56.84 517.8,56.84 517.8,58.55 521.48,58.55 521.48,61.77 525.17,61.77 525.17,64.57 528.86,64.57 528.86,67.09 532.55,67.09 532.55,71.19 536.24,71.19 536.24,77.68 539.92,77.68 539.92,81.13 543.61,81.13 543.61,85.66 547.3,85.66 547.3,92.53 550.99,92.53 550.99,92.88 554.68,92.88 554.68,94.52 558.36,94.52 558.36,94.3 562.05,94.3 562.05,94.67 565.74,94.67 565.74,97.93 569.43,97.93 569.43,98.64 573.12,98.64 573.12,102.26 576.8,102.26 576.8,106.23 580.49,106.23 580.49,106.55 584.18,106.55 584.18,106.61 587.87,106.61 587.87,110.63 591.56,110.63 591.56,110.89 595.24,110.89 595.24,111.27 598.93,111.27 598.93,112.26 602.62,112.26 602.62,112.44 606.31,112.44 606.31,113.06 610,113.06 610,112.7 613.68,112.7 613.68,114.23 617.37,114.23 617.37,114.43 621.06,114.43 621.06,113.17 624.75,113.17 624.75,114.52 628.44,114.52 628.44,114.71 632.12,114.71 632.12,114.54 635.81,114.54 635.81,114.92 639.5,114.92 639.5,116.6" fill="none" stroke="#bdbdbd" stroke-width="0.9" stroke-linejoin="round" stroke-linecap="round" stroke-linejoin="miter" stroke-linecap="butt"/>
<polyline points="455.1,116.6 455.1,93.64 458.79,93.64 458.79,93.62 462.48,93.62 462.48,91.11 466.16,91.11 466.16,90.73 469.85,90.73 469.85,89.24 473.54,89.24 473.54,84.72 477.23,84.72 477.23,82.84 480.92,82.84 480.92,85.53 484.6,85.53 484.6,80.92 488.29,80.92 488.29,79.18 491.98,79.18 491.98,81.54 495.67,81.54 495.67,76.9 499.36,76.9 499.36,76.54 503.04,76.54 503.04,72.41 506.73,72.41 506.73,71 510.42,71 510.42,66.2 514.11,66.2 514.11,66.46 517.8,66.46 517.8,65.42 521.48,65.42 521.48,64.36 525.17,64.36 525.17,66.88 528.86,66.88 528.86,67.9 532.55,67.9 532.55,67.6 536.24,67.6 536.24,74.28 539.92,74.28 539.92,76.49 543.61,76.49 543.61,78.06 547.3,78.06 547.3,79.73 550.99,79.73 550.99,87.15 554.68,87.15 554.68,88.18 558.36,88.18 558.36,92.54 562.05,92.54 562.05,96.43 565.74,96.43 565.74,97.82 569.43,97.82 569.43,101.14 573.12,101.14 573.12,100.65 576.8,100.65 576.8,104.85 580.49,104.85 580.49,105.46 584.18,105.46 584.18,108.78 587.87,108.78 587.87,109.32 591.56,109.32 591.56,107.5 595.24,107.5 595.24,108.54 598.93,108.54 598.93,109.69 602.62,109.69 602.62,112.56 606.31,112.56 606.31,112.01 610,112.01 610,113.28 613.68,113.28 613.68,112.91 617.37,112.91 617.37,113.68 621.06,113.68 621.06,113.78 624.75,113.78 624.75,114.06 628.44,114.06 628.44,114.82 632.12,114.82 632.12,115.14 635.81,115.14 635.81,115.98 639.5,115.98 639.5,116.6" fill="none" stroke="#d9d97a" stroke-width="0.9" stroke-linejoin="round" stroke-linecap="round" stroke-linejoin="miter" stroke-linecap="butt"/>
<polyline points="455.1,116.6 455.1,116.3 458.79,116.3 458.79,114.15 462.48,114.15 462.48,113.79 466.16,113.79 466.16,113.39 469.85,113.39 469.85,111.48 473.54,111.48 473.54,110.23 477.23,110.23 477.23,111.15 480.92,111.15 480.92,108.56 484.6,108.56 484.6,108.7 488.29,108.7 488.29,109.77 491.98,109.77 491.98,108.07 495.67,108.07 495.67,102.96 499.36,102.96 499.36,99.51 503.04,99.51 503.04,96.28 506.73,96.28 506.73,94.45 510.42,94.45 510.42,84.79 514.11,84.79 514.11,79.05 517.8,79.05 517.8,73.52 521.48,73.52 521.48,69.38 525.17,69.38 525.17,61.57 528.86,61.57 528.86,47.85 532.55,47.85 532.55,47.43 536.24,47.43 536.24,45.4 539.92,45.4 539.92,40.27 543.61,40.27 543.61,43.15 547.3,43.15 547.3,44.26 550.99,44.26 550.99,42.42 554.68,42.42 554.68,53.58 558.36,53.58 558.36,56.95 562.05,56.95 562.05,67.61 565.74,67.61 565.74,73.74 569.43,73.74 569.43,79.34 573.12,79.34 573.12,82.86 576.8,82.86 576.8,89.5 580.49,89.5 580.49,96.97 584.18,96.97 584.18,102.21 587.87,102.21 587.87,104.66 591.56,104.66 591.56,108.62 595.24,108.62 595.24,109.47 598.93,109.47 598.93,110.44 602.62,110.44 602.62,110.19 606.31,110.19 606.31,111.38 610,111.38 610,110.59 613.68,110.59 613.68,111.59 617.37,111.59 617.37,111.13 621.06,111.13 621.06,112.4 624.75,112.4 624.75,112.34 628.44,112.34 628.44,112.33 632.12,112.33 632.12,115.24 635.81,115.24 635.81,113.22 639.5,113.22 639.5,116.6" fill="none" stroke="#f6cdec" stroke-width="0.9" stroke-linejoin="round" stroke-linecap="round" stroke-linejoin="miter" stroke-linecap="butt"/>
<polyline points="455.1,116.6 455.1,92.55 458.79,92.55 458.79,93.44 462.48,93.44 462.48,90.23 466.16,90.23 466.16,84.81 469.85,84.81 469.85,83.28 473.54,83.28 473.54,80.27 477.23,80.27 477.23,78.54 480.92,78.54 480.92,76.79 484.6,76.79 484.6,72.48 488.29,72.48 488.29,71.43 491.98,71.43 491.98,74.93 495.67,74.93 495.67,72.13 499.36,72.13 499.36,73.08 503.04,73.08 503.04,68.26 506.73,68.26 506.73,69.69 510.42,69.69 510.42,70.25 514.11,70.25 514.11,66.82 517.8,66.82 517.8,69.67 521.48,69.67 521.48,87.17 525.17,87.17 525.17,84.92 528.86,84.92 528.86,87 532.55,87 532.55,90.26 536.24,90.26 536.24,92.92 539.92,92.92 539.92,90.6 543.61,90.6 543.61,90.36 547.3,90.36 547.3,92.16 550.99,92.16 550.99,90.85 554.68,90.85 554.68,92.58 558.36,92.58 558.36,94.08 562.05,94.08 562.05,94.38 565.74,94.38 565.74,93.04 569.43,93.04 569.43,93.36 573.12,93.36 573.12,94.72 576.8,94.72 576.8,97.18 580.49,97.18 580.49,97.83 584.18,97.83 584.18,98.25 587.87,98.25 587.87,102.39 591.56,102.39 591.56,102.27 595.24,102.27 595.24,103.34 598.93,103.34 598.93,102.92 602.62,102.92 602.62,105.79 606.31,105.79 606.31,106.21 610,106.21 610,105.47 613.68,105.47 613.68,106.47 617.37,106.47 617.37,107.37 621.06,107.37 621.06,107.53 624.75,107.53 624.75,108.1 628.44,108.1 628.44,107.4 632.12,107.4 632.12,108.26 635.81,108.26 635.81,108.18 639.5,108.18 639.5,116.6" fill="none" stroke="#e2ebb2" stroke-width="0.9" stroke-linejoin="round" stroke-linecap="round" stroke-linejoin="miter" stroke-linecap="butt"/>
<polyline points="455.1,116.6 455.1,115.3 458.79,115.3 458.79,114.5 462.48,114.5 462.48,113.5 466.16,113.5 466.16,113.2 469.85,113.2 469.85,113 473.54,113 473.54,112.3 477.23,112.3 477.23,111.8 480.92,111.8 480.92,110.8 484.6,110.8 484.6,110.3 488.29,110.3 488.29,110 491.98,110 491.98,108.5 495.67,108.5 495.67,105.8 499.36,105.8 499.36,102.6 503.04,102.6 503.04,99.1 506.73,99.1 506.73,95.6 510.42,95.6 510.42,88.5 514.11,88.5 514.11,82.3 517.8,82.3 517.8,76.2 521.48,76.2 521.48,70 525.17,70 525.17,59 528.86,59 528.86,45.3 532.55,45.3 532.55,44.2 536.24,44.2 536.24,41.2 539.92,41.2 539.92,36.1 543.61,36.1 543.61,39.9 547.3,39.9 547.3,39.9 550.99,39.9 550.99,38.7 554.68,38.7 554.68,49.1 558.36,49.1 558.36,54.2 562.05,54.2 562.05,64.5 565.74,64.5 565.74,71 569.43,71 569.43,77.5 573.12,77.5 573.12,84 576.8,84 576.8,92 580.49,92 580.49,100 584.18,100 584.18,105 587.87,105 587.87,107.5 591.56,107.5 591.56,109 595.24,109 595.24,110 598.93,110 598.93,110.8 602.62,110.8 602.62,111.5 606.31,111.5 606.31,112 610,112 610,112.3 613.68,112.3 613.68,112.6 617.37,112.6 617.37,113 621.06,113 621.06,113.3 624.75,113.3 624.75,113.6 628.44,113.6 628.44,113.9 632.12,113.9 632.12,114.2 635.81,114.2 635.81,114.5 639.5,114.5 639.5,116.6" fill="none" stroke="#1f77b4" stroke-width="1.5" stroke-linejoin="round" stroke-linecap="round" stroke-linejoin="miter" stroke-linecap="butt"/>
<polyline points="455.1,116.6 456.02,116.6 456.94,116.6 457.87,116.6 458.79,116.6 459.71,116.6 460.63,116.6 461.55,116.6 462.48,116.6 463.4,116.6 464.32,116.6 465.24,116.59 466.16,116.59 467.09,116.59 468.01,116.59 468.93,116.59 469.85,116.58 470.77,116.58 471.7,116.58 472.62,116.57 473.54,116.56 474.46,116.56 475.38,116.55 476.31,116.54 477.23,116.52 478.15,116.51 479.07,116.49 479.99,116.47 480.92,116.44 481.84,116.41 482.76,116.37 483.68,116.33 484.6,116.28 485.53,116.22 486.45,116.15 487.37,116.07 488.29,115.98 489.21,115.87 490.14,115.74 491.06,115.6 491.98,115.44 492.9,115.25 493.82,115.04 494.75,114.8 495.67,114.53 496.59,114.22 497.51,113.87 498.43,113.48 499.36,113.04 500.28,112.55 501.2,112.01 502.12,111.4 503.04,110.73 503.97,109.99 504.89,109.18 505.81,108.28 506.73,107.31 507.65,106.24 508.58,105.08 509.5,103.82 510.42,102.45 511.34,100.99 512.26,99.41 513.19,97.72 514.11,95.92 515.03,94 515.95,91.96 516.87,89.81 517.8,87.54 518.72,85.16 519.64,82.67 520.56,80.07 521.48,77.37 522.41,74.58 523.33,71.7 524.25,68.75 525.17,65.72 526.09,62.64 527.02,59.52 527.94,56.37 528.86,53.2 529.78,50.04 530.7,46.89 531.63,43.77 532.55,40.7 533.47,37.7 534.39,34.79 535.31,31.98 536.24,29.3 537.16,26.75 538.08,24.36 539,22.14 539.92,20.11 540.85,18.29 541.77,16.68 542.69,15.29 543.61,14.15 544.53,13.25 545.46,12.6 546.38,12.21 547.3,12.08 548.22,12.21 549.14,12.6 550.07,13.25 550.99,14.15 551.91,15.29 552.83,16.68 553.75,18.29 554.68,20.11 555.6,22.14 556.52,24.36 557.44,26.75 558.36,29.3 559.29,31.98 560.21,34.79 561.13,37.7 562.05,40.7 562.97,43.77 563.9,46.89 564.82,50.04 565.74,53.2 566.66,56.37 567.58,59.52 568.51,62.64 569.43,65.72 570.35,68.75 571.27,71.7 572.19,74.58 573.12,77.37 574.04,80.07 574.96,82.67 575.88,85.16 576.8,87.54 577.73,89.81 578.65,91.96 579.57,94 580.49,95.92 581.41,97.72 582.34,99.41 583.26,100.99 584.18,102.45 585.1,103.82 586.02,105.08 586.95,106.24 587.87,107.31 588.79,108.28 589.71,109.18 590.63,109.99 591.56,110.73 592.48,111.4 593.4,112.01 594.32,112.55 595.24,113.04 596.17,113.48 597.09,113.87 598.01,114.22 598.93,114.53 599.85,114.8 600.78,115.04 601.7,115.25 602.62,115.44 603.54,115.6 604.46,115.74 605.39,115.87 606.31,115.98 607.23,116.07 608.15,116.15 609.07,116.22 610,116.28 610.92,116.33 611.84,116.37 612.76,116.41 613.68,116.44 614.61,116.47 615.53,116.49 616.45,116.51 617.37,116.52 618.29,116.54 619.22,116.55 620.14,116.56 621.06,116.56 621.98,116.57 622.9,116.58 623.83,116.58 624.75,116.58 625.67,116.59 626.59,116.59 627.51,116.59 628.44,116.59 629.36,116.59 630.28,116.6 631.2,116.6 632.12,116.6 633.05,116.6 633.97,116.6 634.89,116.6 635.81,116.6 636.73,116.6 637.66,116.6 638.58,116.6 639.5,116.6" fill="none" stroke="#000" stroke-width="1.3" stroke-dasharray="2.9 1.45"/>
</g>
<rect x="455.1" y="8.8" width="184.4" height="107.8" fill="none" stroke="#262626" stroke-width="0.95"/>
<line x1="473.54" y1="116.6" x2="473.54" y2="119.2" stroke="#262626" stroke-width="0.9"/>
<text x="473.54" y="126.6" font-size="8.5" text-anchor="middle" textLength="11.2" lengthAdjust="spacing" fill="#000" stroke="#000" stroke-width="0.3">−4</text>
<line x1="510.42" y1="116.6" x2="510.42" y2="119.2" stroke="#262626" stroke-width="0.9"/>
<text x="510.42" y="126.6" font-size="8.5" text-anchor="middle" textLength="11.2" lengthAdjust="spacing" fill="#000" stroke="#000" stroke-width="0.3">−2</text>
<line x1="547.3" y1="116.6" x2="547.3" y2="119.2" stroke="#262626" stroke-width="0.9"/>
<text x="547.3" y="126.6" font-size="8.5" text-anchor="middle" textLength="4.84" lengthAdjust="spacing" fill="#000" stroke="#000" stroke-width="0.3">0</text>
<line x1="584.18" y1="116.6" x2="584.18" y2="119.2" stroke="#262626" stroke-width="0.9"/>
<text x="584.18" y="126.6" font-size="8.5" text-anchor="middle" textLength="4.84" lengthAdjust="spacing" fill="#000" stroke="#000" stroke-width="0.3">2</text>
<line x1="621.06" y1="116.6" x2="621.06" y2="119.2" stroke="#262626" stroke-width="0.9"/>
<text x="621.06" y="126.6" font-size="8.5" text-anchor="middle" textLength="4.84" lengthAdjust="spacing" fill="#000" stroke="#000" stroke-width="0.3">4</text>
<line x1="452.5" y1="116.6" x2="455.1" y2="116.6" stroke="#262626" stroke-width="0.75"/>
<text x="451.5" y="119.8" font-size="8.5" text-anchor="end" textLength="12.09" lengthAdjust="spacing" fill="#000" stroke="#000" stroke-width="0.3">0.0</text>
<line x1="452.5" y1="90.4" x2="455.1" y2="90.4" stroke="#262626" stroke-width="0.75"/>
<text x="451.5" y="93.6" font-size="8.5" text-anchor="end" textLength="12.09" lengthAdjust="spacing" fill="#000" stroke="#000" stroke-width="0.3">0.1</text>
<line x1="452.5" y1="64.2" x2="455.1" y2="64.2" stroke="#262626" stroke-width="0.75"/>
<text x="451.5" y="67.4" font-size="8.5" text-anchor="end" textLength="12.09" lengthAdjust="spacing" fill="#000" stroke="#000" stroke-width="0.3">0.2</text>
<line x1="452.5" y1="38" x2="455.1" y2="38" stroke="#262626" stroke-width="0.75"/>
<text x="451.5" y="41.2" font-size="8.5" text-anchor="end" textLength="12.09" lengthAdjust="spacing" fill="#000" stroke="#000" stroke-width="0.3">0.3</text>
<line x1="452.5" y1="11.8" x2="455.1" y2="11.8" stroke="#262626" stroke-width="0.75"/>
<text x="451.5" y="15" font-size="8.5" text-anchor="end" textLength="12.09" lengthAdjust="spacing" fill="#000" stroke="#000" stroke-width="0.3">0.4</text>
<text x="547.3" y="5.6" font-size="8.5" text-anchor="middle" textLength="172.42" lengthAdjust="spacing" fill="#000" stroke="#000" stroke-width="0.3">MUS-Prediction Errors all times, SNIa-norm, g</text>
<text x="547.3" y="135.8" font-size="8.5" text-anchor="middle" textLength="78.98" lengthAdjust="spacing" fill="#000" stroke="#000" stroke-width="0.3">MUS-Prediction Error</text>
<rect x="578.1" y="11.7" width="58.2" height="88.0" rx="1.8" fill="#fff" fill-opacity="0.8" stroke="#d0d0d0" stroke-width="0.75"/>
<rect x="581" y="14.9" width="13.1" height="4.6" fill="none" stroke="#1f77b4" stroke-width="1.4"/>
<text x="599.6" y="19.5" font-size="7.1" text-anchor="start" textLength="34.33" lengthAdjust="spacing" fill="#000" stroke="#000" stroke-width="0.3">SNIa-norm</text>
<rect x="581" y="24.5" width="13.1" height="4.6" fill="none" stroke="#ffd3b0" stroke-width="0.9"/>
<text x="599.6" y="29.1" font-size="7.1" text-anchor="start" textLength="12.82" lengthAdjust="spacing" fill="#000" stroke="#000" stroke-width="0.3">SNII</text>
<rect x="581" y="34.1" width="13.1" height="4.6" fill="none" stroke="#bfe3bc" stroke-width="0.9"/>
<text x="599.6" y="38.7" font-size="7.1" text-anchor="start" textLength="18.6" lengthAdjust="spacing" fill="#000" stroke="#000" stroke-width="0.3">SNIbc</text>
<rect x="581" y="43.7" width="13.1" height="4.6" fill="none" stroke="#bea4e0" stroke-width="0.9"/>
<text x="599.6" y="48.3" font-size="7.1" text-anchor="start" textLength="21" lengthAdjust="spacing" fill="#000" stroke="#000" stroke-width="0.3">SLSN-I</text>
<rect x="581" y="53.3" width="13.1" height="4.6" fill="none" stroke="#c4a49c" stroke-width="0.9"/>
<text x="599.6" y="57.9" font-size="7.1" text-anchor="start" textLength="13.08" lengthAdjust="spacing" fill="#000" stroke="#000" stroke-width="0.3">TDE</text>
<rect x="581" y="62.9" width="13.1" height="4.6" fill="none" stroke="#bdbdbd" stroke-width="0.9"/>
<text x="599.6" y="67.5" font-size="7.1" text-anchor="start" textLength="14.82" lengthAdjust="spacing" fill="#000" stroke="#000" stroke-width="0.3">PISN</text>
<rect x="581" y="72.5" width="13.1" height="4.6" fill="none" stroke="#d9d97a" stroke-width="0.9"/>
<text x="599.6" y="77.1" font-size="7.1" text-anchor="start" textLength="14.62" lengthAdjust="spacing" fill="#000" stroke="#000" stroke-width="0.3">ILOT</text>
<rect x="581" y="82.1" width="13.1" height="4.6" fill="none" stroke="#f6cdec" stroke-width="0.9"/>
<text x="599.6" y="86.7" font-size="7.1" text-anchor="start" textLength="17.47" lengthAdjust="spacing" fill="#000" stroke="#000" stroke-width="0.3">CART</text>
<rect x="581" y="91.7" width="13.1" height="4.6" fill="none" stroke="#e2ebb2" stroke-width="0.9"/>
<text x="599.6" y="96.3" font-size="7.1" text-anchor="start" textLength="14.35" lengthAdjust="spacing" fill="#000" stroke="#000" stroke-width="0.3">AGN</text>
<g clip-path="url(#c01)">
<path d="M45 180C47.36 180.36 57.7 180.83 62.7 182.7C67.7 184.57 79.26 192.99 82.5 194C85.74 195.01 86.4 190.79 87 190.3" fill="none" stroke="#b8a8d8" stroke-width="0.95" stroke-linejoin="round" stroke-linecap="round"/>
<path d="M33 195.4C34.33 197.61 39.4 208.05 43 212C46.6 215.95 55.07 224.6 60 225C64.93 225.4 76.4 219.8 80 215C83.6 210.2 86.07 192.47 87 189" fill="none" stroke="#d8dc90" stroke-width="0.95" stroke-linejoin="round" stroke-linecap="round"/>
<path d="M87 186C88.73 185.2 97.2 180.84 100 180C102.8 179.16 106.28 181.3 108 179.7C109.72 178.1 111.89 169.52 112.9 168C113.91 166.48 114.97 167.75 115.6 168.3C116.23 168.85 116.31 169.3 117.6 172.1C118.89 174.9 123.01 185.99 125.3 189.3C127.59 192.61 132.25 195.38 134.8 196.9C137.35 198.42 141.6 200.19 144.4 200.7C147.2 201.21 153.27 201.33 155.8 200.7C158.33 200.07 160.85 196.39 163.4 196C165.95 195.61 171.59 198.19 174.9 197.8C178.21 197.41 184.64 193.86 188.2 193.1C191.76 192.34 199.81 192.23 201.6 192.1" fill="none" stroke="#ffd3b0" stroke-width="0.95" stroke-linejoin="round" stroke-linecap="round"/>
<path d="M87 186C87.76 185.44 90.25 183.07 92.7 181.8C95.15 180.53 102.43 176.74 105.4 176.5C108.37 176.26 112.85 179.07 115 180C117.15 180.93 118.86 183.29 121.5 183.5C124.14 183.71 132.27 181.72 134.8 181.6C137.33 181.48 138.21 181.57 140.5 182.6C142.79 183.63 148.95 188.54 152 189.3C155.05 190.06 160.09 188.05 163.4 188.3C166.71 188.55 173.23 191.32 176.8 191.2C180.37 191.08 186.89 187.65 190.2 187.4C193.51 187.15 200.08 189.05 201.6 189.3" fill="none" stroke="#bfe3bc" stroke-width="0.95" stroke-linejoin="round" stroke-linecap="round"/>
<path d="M87 190.3C88.87 188.46 98.07 176.54 101 176.5C103.93 176.46 107.61 186.2 109 190C110.39 193.8 110.35 201.91 111.4 205C112.45 208.09 114.42 209.19 116.9 213.2C119.38 217.21 126.79 230.86 130 235.1C133.21 239.34 138.36 244.41 141 245C143.64 245.59 147.16 241.7 149.8 239.5C152.44 237.3 158.47 229.97 160.8 228.5C163.13 227.03 165.85 228.06 167.3 228.5C168.75 228.94 169.65 231.95 171.7 231.8C173.75 231.65 179.78 230.61 182.7 227.4C185.62 224.19 190.97 210.18 193.6 207.7C196.23 205.22 201.23 208.65 202.4 208.8" fill="none" stroke="#bea4e0" stroke-width="0.95" stroke-linejoin="round" stroke-linecap="round"/>
<path d="M87 186C87.76 184.91 90.67 180.67 92.7 177.8C94.73 174.93 99.91 165.51 102.2 164.5C104.49 163.49 108.11 167.67 109.9 170.2C111.69 172.73 114.05 179.94 115.6 183.5C117.15 187.06 119.86 194.7 121.5 196.9C123.14 199.1 126.18 198.41 127.9 200C129.62 201.59 132.65 206.89 134.4 208.8C136.15 210.71 139.24 214.15 141 214.3C142.76 214.45 145.25 211.51 147.6 209.9C149.95 208.29 155.97 203.52 158.6 202.2C161.23 200.88 165.38 200.59 167.3 200C169.22 199.41 170.47 198.97 173 197.8C175.53 196.63 182.49 192.39 186.3 191.2C190.11 190.01 199.56 189.21 201.6 188.9" fill="none" stroke="#c4a49c" stroke-width="0.95" stroke-linejoin="round" stroke-linecap="round"/>
<path d="M87 190C88.87 188.27 98.2 177.27 101 177C103.8 176.73 106.47 184.35 108 188C109.53 191.65 109.57 198.41 112.5 204.4C115.43 210.39 126.2 227.93 130 232.9C133.8 237.87 138.07 240.97 141 241.7C143.93 242.43 149.65 239.57 152 238.4C154.35 237.23 156.27 232.46 158.6 232.9C160.93 233.34 167.17 240.38 169.5 241.7C171.83 243.02 174.05 243.24 176.1 242.8C178.15 242.36 182.27 240.89 184.9 238.4C187.53 235.91 193.47 225.27 195.8 224.1C198.13 222.93 201.52 228.87 202.4 229.6" fill="none" stroke="#bdbdbd" stroke-width="0.95" stroke-linejoin="round" stroke-linecap="round"/>
<path d="M87 189C88.87 187.33 98.2 176.37 101 176.5C103.8 176.63 106.61 186.57 108 190C109.39 193.43 108.75 198.81 111.4 202.2C114.05 205.59 123.66 211.01 127.9 215.4C132.14 219.79 139.11 233.65 143.2 235.1C147.29 236.55 155.39 227.33 158.6 226.3C161.81 225.27 165.55 226.37 167.3 227.4C169.05 228.43 170.23 232.83 171.7 234C173.17 235.17 176.25 237.08 178.3 236.2C180.35 235.32 185.06 229.89 187.1 227.4C189.14 224.91 191.56 218.67 193.6 217.5C195.64 216.33 201.23 218.45 202.4 218.6" fill="none" stroke="#d9d97a" stroke-width="0.95" stroke-linejoin="round" stroke-linecap="round"/>
<path d="M87 186C88.77 184.03 97.23 172 100.3 171.2C103.37 170.4 106.92 177.33 110 180C113.08 182.67 120.09 190.6 123.4 191.2C126.71 191.8 132 184.25 134.8 184.5C137.6 184.75 141.09 191.95 144.4 193.1C147.71 194.25 156.55 192.71 159.6 193.1C162.65 193.49 163.74 196.13 167.3 196C170.86 195.87 181.73 192.87 186.3 192.1C190.87 191.33 199.56 190.45 201.6 190.2" fill="none" stroke="#f6cdec" stroke-width="0.95" stroke-linejoin="round" stroke-linecap="round"/>
<path d="M88.9 174C91.18 171.33 102.69 155.79 106 154C109.31 152.21 112.15 157.68 113.7 160.6C115.25 163.52 115.71 170.65 117.6 175.9C119.49 181.15 125.37 194.73 127.9 200C130.43 205.27 134.56 213.07 136.6 215.4C138.64 217.73 141.73 218.09 143.2 217.5C144.67 216.91 146.43 211.28 147.6 211C148.77 210.72 149.67 215.11 152 215.4C154.33 215.69 162.18 212.19 165.1 213.2C168.02 214.21 171.85 222.13 173.9 223C175.95 223.87 178.74 220.43 180.5 219.7C182.26 218.97 185.35 218.95 187.1 217.5C188.85 216.05 191.56 209.52 193.6 208.8C195.64 208.08 201.23 211.66 202.4 212.1" fill="none" stroke="#e2ebb2" stroke-width="0.95" stroke-linejoin="round" stroke-linecap="round"/>
<path d="M26.6 180.5H29.4M30.9 180.5H33.7M35.2 180.5H38M39.5 180.5H42.3M43.8 180.5H46.6M48.1 180.5H50.9M52.4 180.5H55.2M56.7 180.5H59.5M61 180.5H63.8M65.3 180.5H68.1M69.6 180.5H72.4M73.9 180.5H76.7M78.2 180.5H81M82.5 180.5H85.3M86.8 180.5H89.6M91.1 180.5H93.9M95.4 180.5H98.2M99.7 180.5H102.5M104 180.5H106.8M108.3 180.5H111.1M112.6 180.5H115.4M116.9 180.5H119.7M121.2 180.5H124M125.5 180.5H128.3M129.8 180.5H132.6M134.1 180.5H136.9M138.4 180.5H141.2M142.7 180.5H145.5M147 180.5H149.8M151.3 180.5H154.1M155.6 180.5H158.4M159.9 180.5H162.7M164.2 180.5H167M168.5 180.5H171.3M172.8 180.5H175.6M177.1 180.5H179.9M181.4 180.5H184.2M185.7 180.5H188.5M190 180.5H192.8M194.3 180.5H197.1M198.6 180.5H201.4M202.9 180.5H205.7M207.2 180.5H210" stroke="#000" stroke-width="1.1" fill="none"/>
<path d="M33 179.3C35.25 179.53 55.5 181.57 60 182C64.5 182.43 83.58 184.88 87 184.5C90.42 184.12 99.42 177.74 101 177.5C102.58 177.26 105.01 180.54 106 181.6C106.99 182.66 112.01 190.04 112.9 190.2C113.79 190.36 116.15 183.66 116.7 183.5C117.25 183.34 118.87 188.22 119.5 188.3C120.13 188.38 123.5 184.9 124.3 184.5C125.1 184.1 128.22 183.9 129.1 183.5C129.97 183.1 134.01 180.02 134.8 179.7C135.59 179.38 137.17 179.57 138.6 179.7C140.03 179.82 150.25 180.88 152 181.2C153.75 181.52 158.32 183.47 159.6 183.5C160.88 183.53 165.55 181.28 167.3 181.6C169.05 181.92 178.38 186.95 180.6 187.4C182.82 187.85 192.17 186.77 194 187C195.83 187.23 201.88 189.93 202.6 190.2" fill="none" stroke="#1f77b4" stroke-width="1.5" stroke-linejoin="round" stroke-linecap="round"/>
</g>
<rect x="25.2" y="153.6" width="185" height="107.8" fill="none" stroke="#262626" stroke-width="0.95"/>
<line x1="38.82" y1="261.4" x2="38.82" y2="264" stroke="#262626" stroke-width="0.9"/>
<text x="38.82" y="271.4" font-size="8.5" text-anchor="middle" textLength="16.04" lengthAdjust="spacing" fill="#000" stroke="#000" stroke-width="0.3">−60</text>
<line x1="62.64" y1="261.4" x2="62.64" y2="264" stroke="#262626" stroke-width="0.9"/>
<text x="62.64" y="271.4" font-size="8.5" text-anchor="middle" textLength="16.04" lengthAdjust="spacing" fill="#000" stroke="#000" stroke-width="0.3">−40</text>
<line x1="86.47" y1="261.4" x2="86.47" y2="264" stroke="#262626" stroke-width="0.9"/>
<text x="86.47" y="271.4" font-size="8.5" text-anchor="middle" textLength="16.04" lengthAdjust="spacing" fill="#000" stroke="#000" stroke-width="0.3">−20</text>
<line x1="110.3" y1="261.4" x2="110.3" y2="264" stroke="#262626" stroke-width="0.9"/>
<text x="110.3" y="271.4" font-size="8.5" text-anchor="middle" textLength="4.84" lengthAdjust="spacing" fill="#000" stroke="#000" stroke-width="0.3">0</text>
<line x1="134.13" y1="261.4" x2="134.13" y2="264" stroke="#262626" stroke-width="0.9"/>
<text x="134.13" y="271.4" font-size="8.5" text-anchor="middle" textLength="9.67" lengthAdjust="spacing" fill="#000" stroke="#000" stroke-width="0.3">20</text>
<line x1="157.96" y1="261.4" x2="157.96" y2="264" stroke="#262626" stroke-width="0.9"/>
<text x="157.96" y="271.4" font-size="8.5" text-anchor="middle" textLength="9.67" lengthAdjust="spacing" fill="#000" stroke="#000" stroke-width="0.3">40</text>
<line x1="181.78" y1="261.4" x2="181.78" y2="264" stroke="#262626" stroke-width="0.9"/>
<text x="181.78" y="271.4" font-size="8.5" text-anchor="middle" textLength="9.67" lengthAdjust="spacing" fill="#000" stroke="#000" stroke-width="0.3">60</text>
<line x1="205.61" y1="261.4" x2="205.61" y2="264" stroke="#262626" stroke-width="0.9"/>
<text x="205.61" y="271.4" font-size="8.5" text-anchor="middle" textLength="9.67" lengthAdjust="spacing" fill="#000" stroke="#000" stroke-width="0.3">80</text>
<line x1="22.6" y1="153.44" x2="25.2" y2="153.44" stroke="#262626" stroke-width="0.75"/>
<text x="21.6" y="156.64" font-size="8.5" text-anchor="end" textLength="4.84" lengthAdjust="spacing" fill="#000" stroke="#000" stroke-width="0.3">2</text>
<line x1="22.6" y1="180.38" x2="25.2" y2="180.38" stroke="#262626" stroke-width="0.75"/>
<text x="21.6" y="183.58" font-size="8.5" text-anchor="end" textLength="4.84" lengthAdjust="spacing" fill="#000" stroke="#000" stroke-width="0.3">0</text>
<line x1="22.6" y1="207.32" x2="25.2" y2="207.32" stroke="#262626" stroke-width="0.75"/>
<text x="21.6" y="210.52" font-size="8.5" text-anchor="end" textLength="11.2" lengthAdjust="spacing" fill="#000" stroke="#000" stroke-width="0.3">−2</text>
<line x1="22.6" y1="234.26" x2="25.2" y2="234.26" stroke="#262626" stroke-width="0.75"/>
<text x="21.6" y="237.46" font-size="8.5" text-anchor="end" textLength="11.2" lengthAdjust="spacing" fill="#000" stroke="#000" stroke-width="0.3">−4</text>
<line x1="22.6" y1="261.2" x2="25.2" y2="261.2" stroke="#262626" stroke-width="0.75"/>
<text x="21.6" y="264.4" font-size="8.5" text-anchor="end" textLength="11.2" lengthAdjust="spacing" fill="#000" stroke="#000" stroke-width="0.3">−6</text>
<text x="118.7" y="150.4" font-size="8.5" text-anchor="middle" textLength="157.43" lengthAdjust="spacing" fill="#000" stroke="#000" stroke-width="0.3">MUS-Prediction Errors mean, SNIa-norm r</text>
<text x="117.7" y="280.6" font-size="8.5" text-anchor="middle" textLength="48.53" lengthAdjust="spacing" fill="#000" stroke="#000" stroke-width="0.3">Time in days</text>
<text x="8" y="207.5" font-size="8.5" text-anchor="middle" textLength="102.95" lengthAdjust="spacing" transform="rotate(-90 8 207.5)" fill="#000" stroke="#000" stroke-width="0.3">MUS-Prediction Error mean</text>
<rect x="28.7" y="170.4" width="58.2" height="88.0" rx="1.8" fill="#fff" fill-opacity="0.8" stroke="#d0d0d0" stroke-width="0.75"/>
<line x1="31.1" y1="175.3" x2="44.9" y2="175.3" stroke="#1f77b4" stroke-width="1.5"/>
<text x="50.2" y="177.6" font-size="7.1" text-anchor="start" textLength="34.33" lengthAdjust="spacing" fill="#000" stroke="#000" stroke-width="0.3">SNIa-norm</text>
<line x1="31.1" y1="184.9" x2="44.9" y2="184.9" stroke="#ffd3b0" stroke-width="0.8"/>
<text x="50.2" y="187.2" font-size="7.1" text-anchor="start" textLength="12.82" lengthAdjust="spacing" fill="#000" stroke="#000" stroke-width="0.3">SNII</text>
<line x1="31.1" y1="194.5" x2="44.9" y2="194.5" stroke="#bfe3bc" stroke-width="0.8"/>
<text x="50.2" y="196.8" font-size="7.1" text-anchor="start" textLength="18.6" lengthAdjust="spacing" fill="#000" stroke="#000" stroke-width="0.3">SNIbc</text>
<line x1="31.1" y1="204.1" x2="44.9" y2="204.1" stroke="#bea4e0" stroke-width="1.0"/>
<text x="50.2" y="206.4" font-size="7.1" text-anchor="start" textLength="21" lengthAdjust="spacing" fill="#000" stroke="#000" stroke-width="0.3">SLSN-I</text>
<line x1="31.1" y1="213.7" x2="44.9" y2="213.7" stroke="#c4a49c" stroke-width="1.0"/>
<text x="50.2" y="216" font-size="7.1" text-anchor="start" textLength="13.08" lengthAdjust="spacing" fill="#000" stroke="#000" stroke-width="0.3">TDE</text>
<line x1="31.1" y1="223.3" x2="44.9" y2="223.3" stroke="#bdbdbd" stroke-width="1.0"/>
<text x="50.2" y="225.6" font-size="7.1" text-anchor="start" textLength="14.82" lengthAdjust="spacing" fill="#000" stroke="#000" stroke-width="0.3">PISN</text>
<line x1="31.1" y1="232.9" x2="44.9" y2="232.9" stroke="#d9d97a" stroke-width="1.0"/>
<text x="50.2" y="235.2" font-size="7.1" text-anchor="start" textLength="14.62" lengthAdjust="spacing" fill="#000" stroke="#000" stroke-width="0.3">ILOT</text>
<line x1="31.1" y1="242.5" x2="44.9" y2="242.5" stroke="#f6cdec" stroke-width="0.8"/>
<text x="50.2" y="244.8" font-size="7.1" text-anchor="start" textLength="17.47" lengthAdjust="spacing" fill="#000" stroke="#000" stroke-width="0.3">CART</text>
<line x1="31.1" y1="252.1" x2="44.9" y2="252.1" stroke="#e2ebb2" stroke-width="0.8"/>
<text x="50.2" y="254.4" font-size="7.1" text-anchor="start" textLength="14.35" lengthAdjust="spacing" fill="#000" stroke="#000" stroke-width="0.3">AGN</text>
<g clip-path="url(#c11)">
<path d="M249 258C250.81 257.82 277.32 255.36 280 255C282.68 254.64 293.54 252.16 295 251.75C296.46 251.34 304.12 248.36 305 248C305.88 247.64 309.24 246.26 310 245.5C310.76 244.74 317.18 237.95 318 235C318.82 232.05 323.46 198.59 324 195C324.54 191.41 326.89 172.92 327.3 173.5C327.71 174.08 330.55 201.7 331 205C331.45 208.3 334.46 228.2 335 230C335.54 231.8 338.95 235.68 340.3 235.8C341.65 235.92 356.18 231.78 358.1 232C360.03 232.22 370.78 238.86 373.3 239.6C375.82 240.34 398.77 244.18 401.3 244.7C403.83 245.22 415.71 248.28 416.6 248.5" fill="none" stroke="#ffd3b0" stroke-width="0.95" stroke-linejoin="round" stroke-linecap="round"/>
<path d="M249 258.5C251.39 258.35 286.73 256.44 290 256C293.27 255.56 303.37 251.93 305 251C306.63 250.07 317.01 242.1 318 240C318.99 237.9 321.46 219.68 322 215C322.54 210.32 326.66 160.97 327.3 159.8C327.94 158.63 332.39 191.76 333 195C333.61 198.24 336.69 212.5 337.7 215.4C338.71 218.3 348.17 242.91 350.4 244.7C352.63 246.48 373.08 245.7 375.9 246C378.72 246.3 396.46 249.57 398.8 249.8C401.14 250.03 415 249.99 416 250" fill="none" stroke="#bfe3bc" stroke-width="0.95" stroke-linejoin="round" stroke-linecap="round"/>
<path d="M249 253.6C249.35 253.42 254.07 250.65 255 250.5C255.93 250.35 263.83 250.99 265 251.1C266.17 251.21 273.83 252.47 275 252.4C276.17 252.33 283.83 250.34 285 249.9C286.17 249.46 293.83 245.48 295 244.9C296.17 244.32 304.01 240.45 305 239.9C305.99 239.35 311.45 237.24 312 235.5C312.55 233.76 314.23 212.82 314.5 210C314.77 207.18 316.37 187.2 316.6 187.2C316.83 187.2 318.19 208.55 318.5 210C318.81 211.45 321.33 212.29 322 212C322.67 211.71 329.07 205.7 330 205C330.93 204.3 337.13 200.98 338 200C338.87 199.02 344.21 188.38 344.9 188.2C345.59 188.02 349 197.06 349.8 197C350.6 196.94 357.86 187.54 358.6 187.2C359.34 186.86 361.99 191.22 362.5 191.1C363.01 190.98 366.66 184.69 367.4 185.2C368.14 185.71 374.46 198.7 375.2 199.9C375.94 201.1 379.49 205.64 380 205.7C380.51 205.76 383.5 201 384 200.9C384.5 200.8 387.59 203.15 388.6 204C389.61 204.85 400.11 213.99 401.3 215.4C402.49 216.81 408.11 227.67 409 228.2C409.89 228.72 416.16 224.62 416.6 224.4" fill="none" stroke="#bea4e0" stroke-width="0.95" stroke-linejoin="round" stroke-linecap="round"/>
<path d="M249 258C250.81 257.82 277.32 255.26 280 254.9C282.68 254.54 293.54 252.15 295 251.75C296.46 251.35 304.12 248.36 305 248C305.88 247.64 309.24 245.97 310 245.5C310.76 245.03 317.3 241.49 318 240C318.7 238.51 321.48 222.92 322 220C322.52 217.08 326.23 189.52 327 190C327.77 190.48 334.13 225.97 335.2 228.2C336.27 230.43 344.14 228.72 345.4 228.2C346.66 227.68 355.91 219.45 356.8 219.3C357.69 219.15 359.64 224.64 360.6 225.6C361.56 226.56 371.37 235.13 373.3 235.8C375.23 236.47 391.62 236.43 393.7 237.1C395.78 237.77 407.66 246.61 409 247.3C410.34 247.99 416.16 248.9 416.6 249" fill="none" stroke="#c4a49c" stroke-width="0.95" stroke-linejoin="round" stroke-linecap="round"/>
<path d="M249 250C250.22 249.42 267.61 240.7 270 240C272.39 239.3 288.25 238.55 290 238C291.75 237.45 299.27 230.42 300 230.5C300.73 230.58 301.92 239.04 302.5 239.3C303.08 239.56 308.98 237.88 310 235C311.02 232.12 318.99 194.1 320 190C321.01 185.9 326.6 164.41 327.3 164.7C328 164.99 331.38 192.07 332 195C332.62 197.93 337.25 214.88 338 215C338.75 215.12 344.04 198.28 344.9 197C345.76 195.72 351.9 193.12 352.7 193C353.5 192.88 357.57 194.49 358.6 195C359.63 195.51 368.94 201.74 370.3 201.8C371.67 201.86 380.86 196.23 382 196C383.14 195.77 388.82 197.21 389.8 197.9C390.78 198.59 397.88 207.34 398.8 207.8C399.72 208.26 404.76 205.18 405.5 205.7C406.24 206.22 410.85 216.5 411.5 216.7C412.15 216.9 416.3 209.54 416.6 209.1" fill="none" stroke="#bdbdbd" stroke-width="0.95" stroke-linejoin="round" stroke-linecap="round"/>
<path d="M249 257C251.39 256.82 286.44 254.53 290 254C293.56 253.47 308.25 248.93 310 248C311.75 247.07 319.12 239.34 320 238C320.88 236.66 323.82 226.61 325 225C326.18 223.39 339.02 211.47 340.3 210.4C341.58 209.33 345.72 207.29 346.9 206.7C348.08 206.1 359.35 200.06 360.6 200.2C361.85 200.34 367.26 208.5 368.3 209.1C369.34 209.69 377.44 210.77 378.4 210.4C379.36 210.03 384.13 203.31 384.8 202.7C385.47 202.09 389.13 199.53 389.8 199.9C390.47 200.27 395.08 207.97 396.2 209.1C397.32 210.23 407.81 218.78 409 219.3C410.19 219.82 416.16 218.08 416.6 218" fill="none" stroke="#d9d97a" stroke-width="0.95" stroke-linejoin="round" stroke-linecap="round"/>
<path d="M249 257C251.39 256.77 286.44 253.64 290 253C293.56 252.36 308.37 247.05 310 246C311.63 244.95 317.3 236.81 318 235C318.7 233.19 321.48 218.5 322 215C322.52 211.5 326.36 175 327 175C327.64 175 332.38 211.9 333 215C333.62 218.1 336.69 227.51 337.7 228.2C338.71 228.89 348.17 226.31 350.4 226.9C352.63 227.49 373.52 237.86 375.9 238.3C378.28 238.74 389.05 234.13 391.2 234.5C393.35 234.87 411.32 244.09 412.8 244.7C414.28 245.31 416.38 244.98 416.6 245" fill="none" stroke="#f6cdec" stroke-width="0.95" stroke-linejoin="round" stroke-linecap="round"/>
<path d="M248.1 235.2C249.04 234.73 261.73 228.02 264.2 227.2C266.67 226.38 288.05 220.28 290.4 221.1C292.75 221.92 303.32 240.71 304.5 241.3C305.68 241.89 309.4 232.73 310.6 231.2C311.8 229.67 323.58 216.24 325 215C326.42 213.76 333.96 210.53 335 210C336.04 209.47 342.2 207.96 342.8 206C343.4 204.04 345.03 176.4 345.3 176.4C345.57 176.4 346.93 204.16 347.5 206C348.07 207.84 354.24 208.06 355 208C355.76 207.94 360.04 207.01 360.5 205C360.96 202.99 362.63 173.5 362.9 173.5C363.17 173.5 364.74 202.33 365.2 205C365.66 207.67 369.44 218.54 370.8 219.3C372.17 220.06 386.82 217.56 388.6 218C390.38 218.44 399.67 226.75 401.3 226.9C402.93 227.05 415.71 220.87 416.6 220.5" fill="none" stroke="#e2ebb2" stroke-width="0.95" stroke-linejoin="round" stroke-linecap="round"/>
<path d="M240.9 257.1H243.7M245.2 257.1H248M249.5 257.1H252.3M253.8 257.1H256.6M258.1 257.1H260.9M262.4 257.1H265.2M266.7 257.1H269.5M271 257.1H273.8M275.3 257.1H278.1M279.6 257.1H282.4M283.9 257.1H286.7M288.2 257.1H291M292.5 257.1H295.3M296.8 257.1H299.6M301.1 257.1H303.9M305.4 257.1H308.2M309.7 257.1H312.5M314 257.1H316.8M318.3 257.1H321.1M322.6 257.1H325.4M326.9 257.1H329.7M331.2 257.1H334M335.5 257.1H338.3M339.8 257.1H342.6M344.1 257.1H346.9M348.4 257.1H351.2M352.7 257.1H355.5M357 257.1H359.8M361.3 257.1H364.1M365.6 257.1H368.4M369.9 257.1H372.7M374.2 257.1H377M378.5 257.1H381.3M382.8 257.1H385.6M387.1 257.1H389.9M391.4 257.1H394.2M395.7 257.1H398.5M400 257.1H402.8M404.3 257.1H407.1M408.6 257.1H411.4M412.9 257.1H415.7M417.2 257.1H420M421.5 257.1H424.3" stroke="#000" stroke-width="1.1" fill="none"/>
<path d="M249.1 258.6C249.67 258.29 254.93 255.05 256 254.9C257.07 254.75 260.83 256.54 262 256.75C263.17 256.96 268.75 257.35 270 257.4C271.25 257.45 275.75 257.51 277 257.4C278.25 257.29 283.75 256.36 285 256.1C286.25 255.84 290.75 254.55 292 254.25C293.25 253.95 298.92 252.81 300 252.5C301.08 252.19 304.17 250.88 305 250.5C305.83 250.12 309.17 248.88 310 248C310.83 247.12 314.33 241.67 315 240C315.67 238.33 317.53 230.25 318 228C318.47 225.75 320.07 215.99 320.6 213C321.13 210.01 323.84 194.98 324.4 192.1C324.96 189.22 326.83 176.91 327.3 178.4C327.77 179.89 329.52 206.6 330 210C330.48 213.4 332.42 217.52 333 219.2C333.58 220.88 336.42 228.67 337 230.2C337.58 231.73 339.5 237.06 340 237.6C340.5 238.14 342.55 236 343 236.7C343.45 237.4 344.57 244.76 345.4 246C346.23 247.24 351.31 251.17 353 251.6C354.69 252.03 363.79 251.04 365.7 251.1C367.61 251.16 372.93 252.26 375.9 252.3C378.87 252.34 398.23 251.6 401.3 251.6C404.38 251.6 411.53 252.45 412.8 252.3C414.07 252.15 416.28 250.01 416.6 249.8" fill="none" stroke="#1f77b4" stroke-width="1.5" stroke-linejoin="round" stroke-linecap="round"/>
</g>
<rect x="240.2" y="153.6" width="184.8" height="107.8" fill="none" stroke="#262626" stroke-width="0.95"/>
<line x1="253.32" y1="261.4" x2="253.32" y2="264" stroke="#262626" stroke-width="0.9"/>
<text x="253.32" y="271.4" font-size="8.5" text-anchor="middle" textLength="16.04" lengthAdjust="spacing" fill="#000" stroke="#000" stroke-width="0.3">−60</text>
<line x1="277.14" y1="261.4" x2="277.14" y2="264" stroke="#262626" stroke-width="0.9"/>
<text x="277.14" y="271.4" font-size="8.5" text-anchor="middle" textLength="16.04" lengthAdjust="spacing" fill="#000" stroke="#000" stroke-width="0.3">−40</text>
<line x1="300.97" y1="261.4" x2="300.97" y2="264" stroke="#262626" stroke-width="0.9"/>
<text x="300.97" y="271.4" font-size="8.5" text-anchor="middle" textLength="16.04" lengthAdjust="spacing" fill="#000" stroke="#000" stroke-width="0.3">−20</text>
<line x1="324.8" y1="261.4" x2="324.8" y2="264" stroke="#262626" stroke-width="0.9"/>
<text x="324.8" y="271.4" font-size="8.5" text-anchor="middle" textLength="4.84" lengthAdjust="spacing" fill="#000" stroke="#000" stroke-width="0.3">0</text>
<line x1="348.63" y1="261.4" x2="348.63" y2="264" stroke="#262626" stroke-width="0.9"/>
<text x="348.63" y="271.4" font-size="8.5" text-anchor="middle" textLength="9.67" lengthAdjust="spacing" fill="#000" stroke="#000" stroke-width="0.3">20</text>
<line x1="372.46" y1="261.4" x2="372.46" y2="264" stroke="#262626" stroke-width="0.9"/>
<text x="372.46" y="271.4" font-size="8.5" text-anchor="middle" textLength="9.67" lengthAdjust="spacing" fill="#000" stroke="#000" stroke-width="0.3">40</text>
<line x1="396.28" y1="261.4" x2="396.28" y2="264" stroke="#262626" stroke-width="0.9"/>
<text x="396.28" y="271.4" font-size="8.5" text-anchor="middle" textLength="9.67" lengthAdjust="spacing" fill="#000" stroke="#000" stroke-width="0.3">60</text>
<line x1="420.11" y1="261.4" x2="420.11" y2="264" stroke="#262626" stroke-width="0.9"/>
<text x="420.11" y="271.4" font-size="8.5" text-anchor="middle" textLength="9.67" lengthAdjust="spacing" fill="#000" stroke="#000" stroke-width="0.3">80</text>
<line x1="237.6" y1="243.7" x2="240.2" y2="243.7" stroke="#262626" stroke-width="0.75"/>
<text x="236.6" y="246.9" font-size="8.5" text-anchor="end" textLength="4.84" lengthAdjust="spacing" fill="#000" stroke="#000" stroke-width="0.3">2</text>
<line x1="237.6" y1="216.77" x2="240.2" y2="216.77" stroke="#262626" stroke-width="0.75"/>
<text x="236.6" y="219.97" font-size="8.5" text-anchor="end" textLength="4.84" lengthAdjust="spacing" fill="#000" stroke="#000" stroke-width="0.3">4</text>
<line x1="237.6" y1="189.83" x2="240.2" y2="189.83" stroke="#262626" stroke-width="0.75"/>
<text x="236.6" y="193.03" font-size="8.5" text-anchor="end" textLength="4.84" lengthAdjust="spacing" fill="#000" stroke="#000" stroke-width="0.3">6</text>
<line x1="237.6" y1="162.9" x2="240.2" y2="162.9" stroke="#262626" stroke-width="0.75"/>
<text x="236.6" y="166.1" font-size="8.5" text-anchor="end" textLength="4.84" lengthAdjust="spacing" fill="#000" stroke="#000" stroke-width="0.3">8</text>
<text x="332.6" y="150.4" font-size="8.5" text-anchor="middle" textLength="150.36" lengthAdjust="spacing" fill="#000" stroke="#000" stroke-width="0.3">MUS-Prediction Errors rms, SNIa-norm r</text>
<text x="332.6" y="280.6" font-size="8.5" text-anchor="middle" textLength="48.53" lengthAdjust="spacing" fill="#000" stroke="#000" stroke-width="0.3">Time in days</text>
<text x="229" y="207.5" font-size="8.5" text-anchor="middle" textLength="95.89" lengthAdjust="spacing" transform="rotate(-90 229 207.5)" fill="#000" stroke="#000" stroke-width="0.3">MUS-Prediction Error rms</text>
<rect x="243.2" y="156.6" width="58.2" height="88.0" rx="1.8" fill="#fff" fill-opacity="0.8" stroke="#d0d0d0" stroke-width="0.75"/>
<line x1="245.6" y1="162.1" x2="259.4" y2="162.1" stroke="#1f77b4" stroke-width="1.5"/>
<text x="264.7" y="164.4" font-size="7.1" text-anchor="start" textLength="34.33" lengthAdjust="spacing" fill="#000" stroke="#000" stroke-width="0.3">SNIa-norm</text>
<line x1="245.6" y1="171.7" x2="259.4" y2="171.7" stroke="#ffd3b0" stroke-width="0.8"/>
<text x="264.7" y="174" font-size="7.1" text-anchor="start" textLength="12.82" lengthAdjust="spacing" fill="#000" stroke="#000" stroke-width="0.3">SNII</text>
<line x1="245.6" y1="181.3" x2="259.4" y2="181.3" stroke="#bfe3bc" stroke-width="0.8"/>
<text x="264.7" y="183.6" font-size="7.1" text-anchor="start" textLength="18.6" lengthAdjust="spacing" fill="#000" stroke="#000" stroke-width="0.3">SNIbc</text>
<line x1="245.6" y1="190.9" x2="259.4" y2="190.9" stroke="#bea4e0" stroke-width="1.0"/>
<text x="264.7" y="193.2" font-size="7.1" text-anchor="start" textLength="21" lengthAdjust="spacing" fill="#000" stroke="#000" stroke-width="0.3">SLSN-I</text>
<line x1="245.6" y1="200.5" x2="259.4" y2="200.5" stroke="#c4a49c" stroke-width="1.0"/>
<text x="264.7" y="202.8" font-size="7.1" text-anchor="start" textLength="13.08" lengthAdjust="spacing" fill="#000" stroke="#000" stroke-width="0.3">TDE</text>
<line x1="245.6" y1="210.1" x2="259.4" y2="210.1" stroke="#bdbdbd" stroke-width="1.0"/>
<text x="264.7" y="212.4" font-size="7.1" text-anchor="start" textLength="14.82" lengthAdjust="spacing" fill="#000" stroke="#000" stroke-width="0.3">PISN</text>
<line x1="245.6" y1="219.7" x2="259.4" y2="219.7" stroke="#d9d97a" stroke-width="1.0"/>
<text x="264.7" y="222" font-size="7.1" text-anchor="start" textLength="14.62" lengthAdjust="spacing" fill="#000" stroke="#000" stroke-width="0.3">ILOT</text>
<line x1="245.6" y1="229.3" x2="259.4" y2="229.3" stroke="#f6cdec" stroke-width="0.8"/>
<text x="264.7" y="231.6" font-size="7.1" text-anchor="start" textLength="17.47" lengthAdjust="spacing" fill="#000" stroke="#000" stroke-width="0.3">CART</text>
<line x1="245.6" y1="238.9" x2="259.4" y2="238.9" stroke="#e2ebb2" stroke-width="0.8"/>
<text x="264.7" y="241.2" font-size="7.1" text-anchor="start" textLength="14.35" lengthAdjust="spacing" fill="#000" stroke="#000" stroke-width="0.3">AGN</text>
<g clip-path="url(#c21)">
<polyline points="455.1,261.4 455.1,258.01 458.79,258.01 458.79,256.24 462.48,256.24 462.48,255.39 466.16,255.39 466.16,255.43 469.85,255.43 469.85,253.29 473.54,253.29 473.54,254.35 477.23,254.35 477.23,253.57 480.92,253.57 480.92,250.57 484.6,250.57 484.6,251.81 488.29,251.81 488.29,250.41 491.98,250.41 491.98,249.34 495.67,249.34 495.67,248.48 499.36,248.48 499.36,246.53 503.04,246.53 503.04,241.13 506.73,241.13 506.73,240.99 510.42,240.99 510.42,236.19 514.11,236.19 514.11,230.55 517.8,230.55 517.8,219.05 521.48,219.05 521.48,217.18 525.17,217.18 525.17,206.86 528.86,206.86 528.86,200.47 532.55,200.47 532.55,197.71 536.24,197.71 536.24,193.76 539.92,193.76 539.92,192.77 543.61,192.77 543.61,188.09 547.3,188.09 547.3,190.5 550.99,190.5 550.99,187.96 554.68,187.96 554.68,194.44 558.36,194.44 558.36,198.13 562.05,198.13 562.05,206.63 565.74,206.63 565.74,212.05 569.43,212.05 569.43,219.63 573.12,219.63 573.12,227.44 576.8,227.44 576.8,236.52 580.49,236.52 580.49,242.32 584.18,242.32 584.18,247.39 587.87,247.39 587.87,249.19 591.56,249.19 591.56,249.21 595.24,249.21 595.24,252.45 598.93,252.45 598.93,252.25 602.62,252.25 602.62,255.17 606.31,255.17 606.31,253.99 610,253.99 610,256.03 613.68,256.03 613.68,255.14 617.37,255.14 617.37,255.65 621.06,255.65 621.06,256.24 624.75,256.24 624.75,255.75 628.44,255.75 628.44,256.23 632.12,256.23 632.12,257.48 635.81,257.48 635.81,258.15 639.5,258.15 639.5,261.4" fill="none" stroke="#ffd3b0" stroke-width="0.9" stroke-linejoin="round" stroke-linecap="round" stroke-linejoin="miter" stroke-linecap="butt"/>
<polyline points="455.1,261.4 455.1,257.7 458.79,257.7 458.79,256.34 462.48,256.34 462.48,256.07 466.16,256.07 466.16,253.69 469.85,253.69 469.85,252.18 473.54,252.18 473.54,251.91 477.23,251.91 477.23,250.46 480.92,250.46 480.92,248.34 484.6,248.34 484.6,247.76 488.29,247.76 488.29,248.57 491.98,248.57 491.98,243.85 495.67,243.85 495.67,242.81 499.36,242.81 499.36,240.71 503.04,240.71 503.04,240.55 506.73,240.55 506.73,238.53 510.42,238.53 510.42,238.02 514.11,238.02 514.11,225.54 517.8,225.54 517.8,220.04 521.48,220.04 521.48,206.57 525.17,206.57 525.17,201.6 528.86,201.6 528.86,192.43 532.55,192.43 532.55,188.19 536.24,188.19 536.24,182.84 539.92,182.84 539.92,180.01 543.61,180.01 543.61,179.01 547.3,179.01 547.3,181.93 550.99,181.93 550.99,181.08 554.68,181.08 554.68,182.47 558.36,182.47 558.36,194.41 562.05,194.41 562.05,201.69 565.74,201.69 565.74,207.85 569.43,207.85 569.43,217.41 573.12,217.41 573.12,227.63 576.8,227.63 576.8,232.55 580.49,232.55 580.49,239.94 584.18,239.94 584.18,246.51 587.87,246.51 587.87,247.29 591.56,247.29 591.56,250 595.24,250 595.24,250.76 598.93,250.76 598.93,254.85 602.62,254.85 602.62,255.98 606.31,255.98 606.31,255.29 610,255.29 610,255.71 613.68,255.71 613.68,255.86 617.37,255.86 617.37,257.77 621.06,257.77 621.06,257.97 624.75,257.97 624.75,257.91 628.44,257.91 628.44,257.41 632.12,257.41 632.12,257.84 635.81,257.84 635.81,259.23 639.5,259.23 639.5,261.4" fill="none" stroke="#bfe3bc" stroke-width="0.9" stroke-linejoin="round" stroke-linecap="round" stroke-linejoin="miter" stroke-linecap="butt"/>
<polyline points="455.1,261.4 455.1,248.7 458.79,248.7 458.79,247.16 462.48,247.16 462.48,245.01 466.16,245.01 466.16,238.96 469.85,238.96 469.85,239.75 473.54,239.75 473.54,237.02 477.23,237.02 477.23,235.73 480.92,235.73 480.92,231.8 484.6,231.8 484.6,230.27 488.29,230.27 488.29,229.74 491.98,229.74 491.98,226.74 495.67,226.74 495.67,226.11 499.36,226.11 499.36,222.03 503.04,222.03 503.04,220.5 506.73,220.5 506.73,221.9 510.42,221.9 510.42,219.74 514.11,219.74 514.11,219.9 517.8,219.9 517.8,220.74 521.48,220.74 521.48,218.47 525.17,218.47 525.17,216.49 528.86,216.49 528.86,219.68 532.55,219.68 532.55,218.26 536.24,218.26 536.24,219.35 539.92,219.35 539.92,219.89 543.61,219.89 543.61,222.44 547.3,222.44 547.3,220.5 550.99,220.5 550.99,224.4 554.68,224.4 554.68,224.2 558.36,224.2 558.36,227.09 562.05,227.09 562.05,229.41 565.74,229.41 565.74,230.31 569.43,230.31 569.43,231.82 573.12,231.82 573.12,236.54 576.8,236.54 576.8,242.25 580.49,242.25 580.49,246.04 584.18,246.04 584.18,248.1 587.87,248.1 587.87,250.21 591.56,250.21 591.56,249.8 595.24,249.8 595.24,251.22 598.93,251.22 598.93,253.08 602.62,253.08 602.62,255.44 606.31,255.44 606.31,254.26 610,254.26 610,254.56 613.68,254.56 613.68,255.04 617.37,255.04 617.37,255.42 621.06,255.42 621.06,256.44 624.75,256.44 624.75,257.52 628.44,257.52 628.44,258.44 632.12,258.44 632.12,258.01 635.81,258.01 635.81,258.56 639.5,258.56 639.5,261.4" fill="none" stroke="#bea4e0" stroke-width="0.9" stroke-linejoin="round" stroke-linecap="round" stroke-linejoin="miter" stroke-linecap="butt"/>
<polyline points="455.1,261.4 455.1,256.87 458.79,256.87 458.79,256.07 462.48,256.07 462.48,253.09 466.16,253.09 466.16,254.38 469.85,254.38 469.85,250.53 473.54,250.53 473.54,251.05 477.23,251.05 477.23,247.52 480.92,247.52 480.92,249.14 484.6,249.14 484.6,242.76 488.29,242.76 488.29,242.22 491.98,242.22 491.98,238.88 495.67,238.88 495.67,236.05 499.36,236.05 499.36,231.7 503.04,231.7 503.04,231.24 506.73,231.24 506.73,228.54 510.42,228.54 510.42,220 514.11,220 514.11,218.09 517.8,218.09 517.8,215.58 521.48,215.58 521.48,209.64 525.17,209.64 525.17,203.71 528.86,203.71 528.86,198.98 532.55,198.98 532.55,199.96 536.24,199.96 536.24,194.64 539.92,194.64 539.92,197.35 543.61,197.35 543.61,198.98 547.3,198.98 547.3,196.62 550.99,196.62 550.99,200.77 554.68,200.77 554.68,205.99 558.36,205.99 558.36,213.72 562.05,213.72 562.05,219.31 565.74,219.31 565.74,228.27 569.43,228.27 569.43,234.66 573.12,234.66 573.12,237.72 576.8,237.72 576.8,246.95 580.49,246.95 580.49,244.41 584.18,244.41 584.18,246.29 587.87,246.29 587.87,250.31 591.56,250.31 591.56,252.3 595.24,252.3 595.24,253.83 598.93,253.83 598.93,255.76 602.62,255.76 602.62,255.79 606.31,255.79 606.31,254.69 610,254.69 610,256.3 613.68,256.3 613.68,257.13 617.37,257.13 617.37,255.7 621.06,255.7 621.06,257.02 624.75,257.02 624.75,256.79 628.44,256.79 628.44,257.25 632.12,257.25 632.12,258.31 635.81,258.31 635.81,259.06 639.5,259.06 639.5,261.4" fill="none" stroke="#c4a49c" stroke-width="0.9" stroke-linejoin="round" stroke-linecap="round" stroke-linejoin="miter" stroke-linecap="butt"/>
<polyline points="455.1,261.4 455.1,230.71 458.79,230.71 458.79,230.34 462.48,230.34 462.48,226.96 466.16,226.96 466.16,223.05 469.85,223.05 469.85,218.84 473.54,218.84 473.54,221.05 477.23,221.05 477.23,220.33 480.92,220.33 480.92,218 484.6,218 484.6,217.17 488.29,217.17 488.29,214.98 491.98,214.98 491.98,213.97 495.67,213.97 495.67,216.15 499.36,216.15 499.36,217.54 503.04,217.54 503.04,215.13 506.73,215.13 506.73,219.17 510.42,219.17 510.42,216.88 514.11,216.88 514.11,217.61 517.8,217.61 517.8,217.35 521.48,217.35 521.48,223.25 525.17,223.25 525.17,224.86 528.86,224.86 528.86,228.52 532.55,228.52 532.55,230.13 536.24,230.13 536.24,229.61 539.92,229.61 539.92,232.98 543.61,232.98 543.61,235.69 547.3,235.69 547.3,235.54 550.99,235.54 550.99,241.72 554.68,241.72 554.68,240.42 558.36,240.42 558.36,240.66 562.05,240.66 562.05,245.46 565.74,245.46 565.74,243.23 569.43,243.23 569.43,248.63 573.12,248.63 573.12,247.96 576.8,247.96 576.8,249.97 580.49,249.97 580.49,250.79 584.18,250.79 584.18,252.9 587.87,252.9 587.87,253.57 591.56,253.57 591.56,253.54 595.24,253.54 595.24,256.05 598.93,256.05 598.93,254.79 602.62,254.79 602.62,256.45 606.31,256.45 606.31,255.45 610,255.45 610,257.5 613.68,257.5 613.68,257.64 617.37,257.64 617.37,257.66 621.06,257.66 621.06,257.99 624.75,257.99 624.75,257.97 628.44,257.97 628.44,258.56 632.12,258.56 632.12,257.85 635.81,257.85 635.81,258.79 639.5,258.79 639.5,261.4" fill="none" stroke="#bdbdbd" stroke-width="0.9" stroke-linejoin="round" stroke-linecap="round" stroke-linejoin="miter" stroke-linecap="butt"/>
<polyline points="455.1,261.4 455.1,238.22 458.79,238.22 458.79,232.25 462.48,232.25 462.48,229.92 466.16,229.92 466.16,233.27 469.85,233.27 469.85,227.31 473.54,227.31 473.54,225.26 477.23,225.26 477.23,226.3 480.92,226.3 480.92,222.98 484.6,222.98 484.6,224.09 488.29,224.09 488.29,218.95 491.98,218.95 491.98,221.01 495.67,221.01 495.67,216.95 499.36,216.95 499.36,218.82 503.04,218.82 503.04,220.95 506.73,220.95 506.73,220.07 510.42,220.07 510.42,221.72 514.11,221.72 514.11,221 517.8,221 517.8,217.98 521.48,217.98 521.48,223.65 525.17,223.65 525.17,223.67 528.86,223.67 528.86,223.76 532.55,223.76 532.55,224.67 536.24,224.67 536.24,229.76 539.92,229.76 539.92,230.21 543.61,230.21 543.61,233.91 547.3,233.91 547.3,234.9 550.99,234.9 550.99,237.83 554.68,237.83 554.68,237.78 558.36,237.78 558.36,240.46 562.05,240.46 562.05,242.02 565.74,242.02 565.74,242.18 569.43,242.18 569.43,247.37 573.12,247.37 573.12,245.63 576.8,245.63 576.8,249.3 580.49,249.3 580.49,251.43 584.18,251.43 584.18,251.18 587.87,251.18 587.87,249.91 591.56,249.91 591.56,252.89 595.24,252.89 595.24,252.9 598.93,252.9 598.93,251.94 602.62,251.94 602.62,252.16 606.31,252.16 606.31,254.18 610,254.18 610,253.41 613.68,253.41 613.68,256.32 617.37,256.32 617.37,255.84 621.06,255.84 621.06,256.44 624.75,256.44 624.75,256.79 628.44,256.79 628.44,257.87 632.12,257.87 632.12,258.88 635.81,258.88 635.81,258.4 639.5,258.4 639.5,261.4" fill="none" stroke="#d9d97a" stroke-width="0.9" stroke-linejoin="round" stroke-linecap="round" stroke-linejoin="miter" stroke-linecap="butt"/>
<polyline points="455.1,261.4 455.1,257.75 458.79,257.75 458.79,256.89 462.48,256.89 462.48,256.51 466.16,256.51 466.16,253.75 469.85,253.75 469.85,252.31 473.54,252.31 473.54,253.47 477.23,253.47 477.23,250.96 480.92,250.96 480.92,250.05 484.6,250.05 484.6,250.69 488.29,250.69 488.29,247.22 491.98,247.22 491.98,248.63 495.67,248.63 495.67,244.35 499.36,244.35 499.36,239.77 503.04,239.77 503.04,241.77 506.73,241.77 506.73,237.58 510.42,237.58 510.42,230.21 514.11,230.21 514.11,226.96 517.8,226.96 517.8,219.43 521.48,219.43 521.48,212.05 525.17,212.05 525.17,204.42 528.86,204.42 528.86,200.56 532.55,200.56 532.55,191.46 536.24,191.46 536.24,192.47 539.92,192.47 539.92,190.74 543.61,190.74 543.61,188.72 547.3,188.72 547.3,191.83 550.99,191.83 550.99,192.91 554.68,192.91 554.68,197.03 558.36,197.03 558.36,199.81 562.05,199.81 562.05,205.13 565.74,205.13 565.74,212.91 569.43,212.91 569.43,224.44 573.12,224.44 573.12,229.68 576.8,229.68 576.8,237.73 580.49,237.73 580.49,244.39 584.18,244.39 584.18,247.2 587.87,247.2 587.87,247.83 591.56,247.83 591.56,248.26 595.24,248.26 595.24,251.99 598.93,251.99 598.93,252.43 602.62,252.43 602.62,255.47 606.31,255.47 606.31,253.8 610,253.8 610,256.1 613.68,256.1 613.68,254.32 617.37,254.32 617.37,256.4 621.06,256.4 621.06,255.89 624.75,255.89 624.75,256.74 628.44,256.74 628.44,256.85 632.12,256.85 632.12,257.07 635.81,257.07 635.81,257.7 639.5,257.7 639.5,261.4" fill="none" stroke="#f6cdec" stroke-width="0.9" stroke-linejoin="round" stroke-linecap="round" stroke-linejoin="miter" stroke-linecap="butt"/>
<polyline points="455.1,261.4 455.1,230.86 458.79,230.86 458.79,232.72 462.48,232.72 462.48,231.29 466.16,231.29 466.16,227.01 469.85,227.01 469.85,229.43 473.54,229.43 473.54,227.21 477.23,227.21 477.23,223.12 480.92,223.12 480.92,226.86 484.6,226.86 484.6,222.23 488.29,222.23 488.29,221.49 491.98,221.49 491.98,221.81 495.67,221.81 495.67,223.06 499.36,223.06 499.36,221.05 503.04,221.05 503.04,224.37 506.73,224.37 506.73,225.53 510.42,225.53 510.42,224.26 514.11,224.26 514.11,226.13 517.8,226.13 517.8,225.65 521.48,225.65 521.48,227.16 525.17,227.16 525.17,224.27 528.86,224.27 528.86,225.67 532.55,225.67 532.55,226.71 536.24,226.71 536.24,225.27 539.92,225.27 539.92,230.26 543.61,230.26 543.61,228.97 547.3,228.97 547.3,227.26 550.99,227.26 550.99,231.48 554.68,231.48 554.68,232.31 558.36,232.31 558.36,232.83 562.05,232.83 562.05,234.55 565.74,234.55 565.74,238.14 569.43,238.14 569.43,238.13 573.12,238.13 573.12,242.69 576.8,242.69 576.8,244.48 580.49,244.48 580.49,245.1 584.18,245.1 584.18,249.64 587.87,249.64 587.87,249.13 591.56,249.13 591.56,249.8 595.24,249.8 595.24,251.71 598.93,251.71 598.93,250.57 602.62,250.57 602.62,251.36 606.31,251.36 606.31,251.97 610,251.97 610,252 613.68,252 613.68,252.43 617.37,252.43 617.37,252.75 621.06,252.75 621.06,253.01 624.75,253.01 624.75,252.53 628.44,252.53 628.44,254.2 632.12,254.2 632.12,253.58 635.81,253.58 635.81,253.53 639.5,253.53 639.5,261.4" fill="none" stroke="#e2ebb2" stroke-width="0.9" stroke-linejoin="round" stroke-linecap="round" stroke-linejoin="miter" stroke-linecap="butt"/>
<polyline points="455.1,261.4 455.1,259.6 458.79,259.6 458.79,259.4 462.48,259.4 462.48,259.1 466.16,259.1 466.16,258.8 469.85,258.8 469.85,258.5 473.54,258.5 473.54,258 477.23,258 477.23,257.5 480.92,257.5 480.92,256.5 484.6,256.5 484.6,255.8 488.29,255.8 488.29,253.6 491.98,253.6 491.98,252.5 495.67,252.5 495.67,251.4 499.36,251.4 499.36,249.2 503.04,249.2 503.04,246 506.73,246 506.73,242.7 510.42,242.7 510.42,238.3 514.11,238.3 514.11,233.9 517.8,233.9 517.8,227.4 521.48,227.4 521.48,217.5 525.17,217.5 525.17,208.8 528.86,208.8 528.86,199.6 532.55,199.6 532.55,191.4 536.24,191.4 536.24,186.4 539.92,186.4 539.92,186.4 543.61,186.4 543.61,177.7 547.3,177.7 547.3,177.7 550.99,177.7 550.99,177.7 554.68,177.7 554.68,183.7 558.36,183.7 558.36,196.8 562.05,196.8 562.05,205 565.74,205 565.74,212 569.43,212 569.43,220 573.12,220 573.12,227 576.8,227 576.8,236 580.49,236 580.49,243 584.18,243 584.18,248 587.87,248 587.87,250.5 591.56,250.5 591.56,252.3 595.24,252.3 595.24,253.5 598.93,253.5 598.93,254.5 602.62,254.5 602.62,255 606.31,255 606.31,255.5 610,255.5 610,256 613.68,256 613.68,256.5 617.37,256.5 617.37,257 621.06,257 621.06,257.5 624.75,257.5 624.75,257.8 628.44,257.8 628.44,258.1 632.12,258.1 632.12,258.4 635.81,258.4 635.81,258.7 639.5,258.7 639.5,261.4" fill="none" stroke="#1f77b4" stroke-width="1.5" stroke-linejoin="round" stroke-linecap="round" stroke-linejoin="miter" stroke-linecap="butt"/>
<polyline points="455.1,261.4 456.02,261.4 456.94,261.4 457.87,261.4 458.79,261.4 459.71,261.4 460.63,261.4 461.55,261.4 462.48,261.4 463.4,261.4 464.32,261.4 465.24,261.39 466.16,261.39 467.09,261.39 468.01,261.39 468.93,261.39 469.85,261.38 470.77,261.38 471.7,261.38 472.62,261.37 473.54,261.36 474.46,261.36 475.38,261.35 476.31,261.34 477.23,261.32 478.15,261.31 479.07,261.29 479.99,261.27 480.92,261.24 481.84,261.21 482.76,261.17 483.68,261.13 484.6,261.08 485.53,261.02 486.45,260.95 487.37,260.87 488.29,260.78 489.21,260.67 490.14,260.54 491.06,260.4 491.98,260.24 492.9,260.05 493.82,259.84 494.75,259.6 495.67,259.33 496.59,259.02 497.51,258.67 498.43,258.28 499.36,257.84 500.28,257.35 501.2,256.81 502.12,256.2 503.04,255.53 503.97,254.79 504.89,253.98 505.81,253.08 506.73,252.11 507.65,251.04 508.58,249.88 509.5,248.62 510.42,247.25 511.34,245.79 512.26,244.21 513.19,242.52 514.11,240.72 515.03,238.8 515.95,236.76 516.87,234.61 517.8,232.34 518.72,229.96 519.64,227.47 520.56,224.87 521.48,222.17 522.41,219.38 523.33,216.5 524.25,213.55 525.17,210.52 526.09,207.44 527.02,204.32 527.94,201.17 528.86,198 529.78,194.84 530.7,191.69 531.63,188.57 532.55,185.5 533.47,182.5 534.39,179.59 535.31,176.78 536.24,174.1 537.16,171.55 538.08,169.16 539,166.94 539.92,164.91 540.85,163.09 541.77,161.48 542.69,160.09 543.61,158.95 544.53,158.05 545.46,157.4 546.38,157.01 547.3,156.88 548.22,157.01 549.14,157.4 550.07,158.05 550.99,158.95 551.91,160.09 552.83,161.48 553.75,163.09 554.68,164.91 555.6,166.94 556.52,169.16 557.44,171.55 558.36,174.1 559.29,176.78 560.21,179.59 561.13,182.5 562.05,185.5 562.97,188.57 563.9,191.69 564.82,194.84 565.74,198 566.66,201.17 567.58,204.32 568.51,207.44 569.43,210.52 570.35,213.55 571.27,216.5 572.19,219.38 573.12,222.17 574.04,224.87 574.96,227.47 575.88,229.96 576.8,232.34 577.73,234.61 578.65,236.76 579.57,238.8 580.49,240.72 581.41,242.52 582.34,244.21 583.26,245.79 584.18,247.25 585.1,248.62 586.02,249.88 586.95,251.04 587.87,252.11 588.79,253.08 589.71,253.98 590.63,254.79 591.56,255.53 592.48,256.2 593.4,256.81 594.32,257.35 595.24,257.84 596.17,258.28 597.09,258.67 598.01,259.02 598.93,259.33 599.85,259.6 600.78,259.84 601.7,260.05 602.62,260.24 603.54,260.4 604.46,260.54 605.39,260.67 606.31,260.78 607.23,260.87 608.15,260.95 609.07,261.02 610,261.08 610.92,261.13 611.84,261.17 612.76,261.21 613.68,261.24 614.61,261.27 615.53,261.29 616.45,261.31 617.37,261.32 618.29,261.34 619.22,261.35 620.14,261.36 621.06,261.36 621.98,261.37 622.9,261.38 623.83,261.38 624.75,261.38 625.67,261.39 626.59,261.39 627.51,261.39 628.44,261.39 629.36,261.39 630.28,261.4 631.2,261.4 632.12,261.4 633.05,261.4 633.97,261.4 634.89,261.4 635.81,261.4 636.73,261.4 637.66,261.4 638.58,261.4 639.5,261.4" fill="none" stroke="#000" stroke-width="1.3" stroke-dasharray="2.9 1.45"/>
</g>
<rect x="455.1" y="153.6" width="184.4" height="107.8" fill="none" stroke="#262626" stroke-width="0.95"/>
<line x1="473.54" y1="261.4" x2="473.54" y2="264" stroke="#262626" stroke-width="0.9"/>
<text x="473.54" y="271.4" font-size="8.5" text-anchor="middle" textLength="11.2" lengthAdjust="spacing" fill="#000" stroke="#000" stroke-width="0.3">−4</text>
<line x1="510.42" y1="261.4" x2="510.42" y2="264" stroke="#262626" stroke-width="0.9"/>
<text x="510.42" y="271.4" font-size="8.5" text-anchor="middle" textLength="11.2" lengthAdjust="spacing" fill="#000" stroke="#000" stroke-width="0.3">−2</text>
<line x1="547.3" y1="261.4" x2="547.3" y2="264" stroke="#262626" stroke-width="0.9"/>
<text x="547.3" y="271.4" font-size="8.5" text-anchor="middle" textLength="4.84" lengthAdjust="spacing" fill="#000" stroke="#000" stroke-width="0.3">0</text>
<line x1="584.18" y1="261.4" x2="584.18" y2="264" stroke="#262626" stroke-width="0.9"/>
<text x="584.18" y="271.4" font-size="8.5" text-anchor="middle" textLength="4.84" lengthAdjust="spacing" fill="#000" stroke="#000" stroke-width="0.3">2</text>
<line x1="621.06" y1="261.4" x2="621.06" y2="264" stroke="#262626" stroke-width="0.9"/>
<text x="621.06" y="271.4" font-size="8.5" text-anchor="middle" textLength="4.84" lengthAdjust="spacing" fill="#000" stroke="#000" stroke-width="0.3">4</text>
<line x1="452.5" y1="261.4" x2="455.1" y2="261.4" stroke="#262626" stroke-width="0.75"/>
<text x="451.5" y="264.6" font-size="8.5" text-anchor="end" textLength="12.09" lengthAdjust="spacing" fill="#000" stroke="#000" stroke-width="0.3">0.0</text>
<line x1="452.5" y1="235.2" x2="455.1" y2="235.2" stroke="#262626" stroke-width="0.75"/>
<text x="451.5" y="238.4" font-size="8.5" text-anchor="end" textLength="12.09" lengthAdjust="spacing" fill="#000" stroke="#000" stroke-width="0.3">0.1</text>
<line x1="452.5" y1="209" x2="455.1" y2="209" stroke="#262626" stroke-width="0.75"/>
<text x="451.5" y="212.2" font-size="8.5" text-anchor="end" textLength="12.09" lengthAdjust="spacing" fill="#000" stroke="#000" stroke-width="0.3">0.2</text>
<line x1="452.5" y1="182.8" x2="455.1" y2="182.8" stroke="#262626" stroke-width="0.75"/>
<text x="451.5" y="186" font-size="8.5" text-anchor="end" textLength="12.09" lengthAdjust="spacing" fill="#000" stroke="#000" stroke-width="0.3">0.3</text>
<line x1="452.5" y1="156.6" x2="455.1" y2="156.6" stroke="#262626" stroke-width="0.75"/>
<text x="451.5" y="159.8" font-size="8.5" text-anchor="end" textLength="12.09" lengthAdjust="spacing" fill="#000" stroke="#000" stroke-width="0.3">0.4</text>
<text x="547.3" y="150.4" font-size="8.5" text-anchor="middle" textLength="170.72" lengthAdjust="spacing" fill="#000" stroke="#000" stroke-width="0.3">MUS-Prediction Errors all times, SNIa-norm, r</text>
<text x="547.3" y="280.6" font-size="8.5" text-anchor="middle" textLength="78.98" lengthAdjust="spacing" fill="#000" stroke="#000" stroke-width="0.3">MUS-Prediction Error</text>
<rect x="578.1" y="156.5" width="58.2" height="88.0" rx="1.8" fill="#fff" fill-opacity="0.8" stroke="#d0d0d0" stroke-width="0.75"/>
<rect x="581" y="159.7" width="13.1" height="4.6" fill="none" stroke="#1f77b4" stroke-width="1.4"/>
<text x="599.6" y="164.3" font-size="7.1" text-anchor="start" textLength="34.33" lengthAdjust="spacing" fill="#000" stroke="#000" stroke-width="0.3">SNIa-norm</text>
<rect x="581" y="169.3" width="13.1" height="4.6" fill="none" stroke="#ffd3b0" stroke-width="0.9"/>
<text x="599.6" y="173.9" font-size="7.1" text-anchor="start" textLength="12.82" lengthAdjust="spacing" fill="#000" stroke="#000" stroke-width="0.3">SNII</text>
<rect x="581" y="178.9" width="13.1" height="4.6" fill="none" stroke="#bfe3bc" stroke-width="0.9"/>
<text x="599.6" y="183.5" font-size="7.1" text-anchor="start" textLength="18.6" lengthAdjust="spacing" fill="#000" stroke="#000" stroke-width="0.3">SNIbc</text>
<rect x="581" y="188.5" width="13.1" height="4.6" fill="none" stroke="#bea4e0" stroke-width="0.9"/>
<text x="599.6" y="193.1" font-size="7.1" text-anchor="start" textLength="21" lengthAdjust="spacing" fill="#000" stroke="#000" stroke-width="0.3">SLSN-I</text>
<rect x="581" y="198.1" width="13.1" height="4.6" fill="none" stroke="#c4a49c" stroke-width="0.9"/>
<text x="599.6" y="202.7" font-size="7.1" text-anchor="start" textLength="13.08" lengthAdjust="spacing" fill="#000" stroke="#000" stroke-width="0.3">TDE</text>
<rect x="581" y="207.7" width="13.1" height="4.6" fill="none" stroke="#bdbdbd" stroke-width="0.9"/>
<text x="599.6" y="212.3" font-size="7.1" text-anchor="start" textLength="14.82" lengthAdjust="spacing" fill="#000" stroke="#000" stroke-width="0.3">PISN</text>
<rect x="581" y="217.3" width="13.1" height="4.6" fill="none" stroke="#d9d97a" stroke-width="0.9"/>
<text x="599.6" y="221.9" font-size="7.1" text-anchor="start" textLength="14.62" lengthAdjust="spacing" fill="#000" stroke="#000" stroke-width="0.3">ILOT</text>
<rect x="581" y="226.9" width="13.1" height="4.6" fill="none" stroke="#f6cdec" stroke-width="0.9"/>
<text x="599.6" y="231.5" font-size="7.1" text-anchor="start" textLength="17.47" lengthAdjust="spacing" fill="#000" stroke="#000" stroke-width="0.3">CART</text>
<rect x="581" y="236.5" width="13.1" height="4.6" fill="none" stroke="#e2ebb2" stroke-width="0.9"/>
<text x="599.6" y="241.1" font-size="7.1" text-anchor="start" textLength="14.35" lengthAdjust="spacing" fill="#000" stroke="#000" stroke-width="0.3">AGN</text>
</svg></body></html>
